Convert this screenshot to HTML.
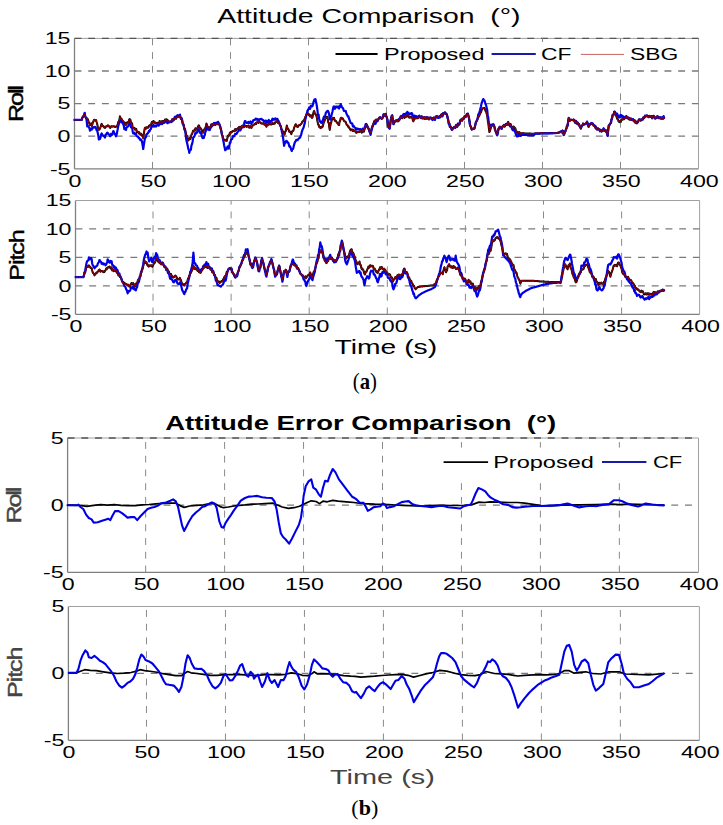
<!DOCTYPE html><html><head><meta charset="utf-8"><style>html,body{margin:0;padding:0;background:#fff;}svg{display:block;}</style></head><body>
<svg width="723" height="825" viewBox="0 0 723 825">
<rect width="723" height="825" fill="#fff"/>
<line x1="74.50" y1="38.40" x2="74.50" y2="168.80" stroke="#808080" stroke-width="1.3"/>
<line x1="74.50" y1="168.80" x2="698.50" y2="168.80" stroke="#808080" stroke-width="1.3"/>
<line x1="698.50" y1="38.40" x2="698.50" y2="168.80" stroke="#a0a0a0" stroke-width="1.0"/>
<line x1="74.50" y1="38.40" x2="698.50" y2="38.40" stroke="#a0a0a0" stroke-width="1.0"/>
<line x1="74.50" y1="136.20" x2="698.50" y2="136.20" stroke="#7a7a7a" stroke-width="1.3" stroke-dasharray="6.9,6.82"/>
<line x1="74.50" y1="103.60" x2="698.50" y2="103.60" stroke="#7a7a7a" stroke-width="1.3" stroke-dasharray="6.9,6.82"/>
<line x1="74.50" y1="71.00" x2="698.50" y2="71.00" stroke="#7a7a7a" stroke-width="1.3" stroke-dasharray="6.9,6.82"/>
<line x1="74.50" y1="38.40" x2="698.50" y2="38.40" stroke="#555555" stroke-width="1.3" stroke-dasharray="6.9,6.82"/>
<line x1="152.50" y1="168.80" x2="152.50" y2="38.40" stroke="#8a8a8a" stroke-width="1.0" stroke-dasharray="6.9,6.82"/>
<line x1="230.50" y1="168.80" x2="230.50" y2="38.40" stroke="#8a8a8a" stroke-width="1.0" stroke-dasharray="6.9,6.82"/>
<line x1="308.50" y1="168.80" x2="308.50" y2="38.40" stroke="#8a8a8a" stroke-width="1.0" stroke-dasharray="6.9,6.82"/>
<line x1="386.50" y1="168.80" x2="386.50" y2="38.40" stroke="#8a8a8a" stroke-width="1.0" stroke-dasharray="6.9,6.82"/>
<line x1="464.50" y1="168.80" x2="464.50" y2="38.40" stroke="#8a8a8a" stroke-width="1.0" stroke-dasharray="6.9,6.82"/>
<line x1="542.50" y1="168.80" x2="542.50" y2="38.40" stroke="#8a8a8a" stroke-width="1.0" stroke-dasharray="6.9,6.82"/>
<line x1="620.50" y1="168.80" x2="620.50" y2="38.40" stroke="#8a8a8a" stroke-width="1.0" stroke-dasharray="6.9,6.82"/>
<polyline points="74.5,119.9 75.0,119.9 75.5,119.9 76.0,119.9 76.6,119.9 77.1,119.9 77.6,119.9 78.1,119.9 78.6,119.9 79.1,119.9 79.6,119.9 80.2,119.9 80.7,119.9 81.2,119.9 81.7,119.9 82.2,117.8 82.7,117.0 83.2,116.3 83.7,116.1 84.2,114.8 84.7,113.4 85.2,116.5 85.7,117.4 86.2,117.9 86.7,118.2 87.2,118.5 87.6,119.1 88.1,120.0 88.6,121.9 89.0,122.5 89.5,124.0 90.0,125.0 90.6,123.8 91.2,123.4 91.7,126.0 92.2,124.9 92.8,122.7 93.4,121.5 93.9,120.0 94.5,119.8 95.0,120.4 95.5,120.4 96.1,120.0 96.6,122.0 97.2,124.0 97.8,126.9 98.3,129.2 98.9,129.8 99.4,129.5 100.0,128.7 100.6,126.9 101.1,124.9 101.7,123.8 102.2,125.0 102.8,125.9 103.3,126.0 103.9,126.9 104.4,127.7 105.0,127.9 105.5,126.5 106.1,126.5 106.7,126.6 107.2,125.8 107.8,125.5 108.3,125.6 108.9,126.3 109.4,126.5 109.9,127.7 110.3,128.0 110.8,126.7 111.3,126.4 111.7,126.3 112.2,126.5 112.7,126.6 113.3,126.4 113.8,126.2 114.4,126.5 114.9,126.8 115.5,127.0 116.0,126.6 116.6,126.3 117.2,126.1 117.7,124.4 118.2,122.3 118.8,121.2 119.4,119.9 119.9,116.3 120.5,117.7 121.0,118.5 121.6,118.8 122.1,120.4 122.7,121.1 123.2,121.5 123.8,122.0 124.3,123.8 124.9,122.7 125.5,124.6 126.0,125.0 126.5,123.0 127.1,122.3 127.6,123.1 128.2,122.3 128.8,121.1 129.3,119.4 129.8,119.1 130.4,119.7 130.9,122.2 131.5,123.5 132.1,123.3 132.6,126.9 133.1,128.1 133.5,128.2 134.0,128.3 134.4,127.9 134.9,129.5 135.4,129.0 135.8,128.7 136.3,129.1 136.8,132.1 137.3,131.5 137.7,131.8 138.2,132.1 138.7,133.3 139.1,132.1 139.6,133.9 140.1,134.3 140.5,134.7 141.0,133.6 141.6,134.4 142.1,135.8 142.6,136.1 143.2,137.8 143.7,134.9 144.3,131.0 144.8,127.9 145.4,127.8 145.9,128.7 146.4,127.3 147.0,127.6 147.5,127.6 147.9,127.8 148.4,127.1 148.9,125.8 149.4,126.4 149.8,125.7 150.3,124.8 150.8,124.8 151.3,123.5 151.8,122.1 152.3,122.9 152.8,122.1 153.3,121.1 153.8,121.2 154.2,122.8 154.7,122.2 155.2,122.6 155.7,122.9 156.1,123.5 156.6,123.3 157.1,122.7 157.6,123.1 158.1,122.7 158.6,123.1 159.1,123.3 159.6,121.1 160.1,122.2 160.6,121.7 161.1,121.6 161.6,121.3 162.1,122.2 162.6,121.0 163.1,121.1 163.6,121.3 164.0,121.6 164.5,121.2 165.0,119.5 165.5,119.8 166.0,119.5 166.5,119.2 167.0,119.7 167.5,120.5 167.9,120.3 168.4,121.1 168.9,121.5 169.4,121.8 169.9,122.1 170.4,121.8 170.9,121.3 171.4,121.6 171.8,120.6 172.3,119.5 172.8,119.8 173.3,120.3 173.8,119.6 174.4,118.8 174.9,117.9 175.4,118.3 176.0,118.9 176.5,117.2 177.0,117.3 177.5,116.3 178.0,116.5 178.5,116.5 179.0,116.7 179.5,116.8 180.0,116.0 180.5,118.0 181.0,119.1 181.5,118.2 182.1,119.9 182.6,123.0 183.1,124.4 183.7,124.5 184.2,128.0 184.6,128.3 185.1,129.3 185.5,131.1 186.0,134.2 186.6,135.6 187.1,136.2 187.6,137.9 188.2,140.6 188.8,139.7 189.3,139.2 189.8,138.1 190.4,138.9 190.9,137.4 191.5,134.6 192.1,134.1 192.6,132.4 193.1,130.8 193.5,130.4 194.0,130.5 194.5,130.8 194.9,129.9 195.4,128.2 195.9,128.6 196.3,129.6 196.8,128.7 197.3,128.8 197.8,127.0 198.2,126.2 198.7,125.4 199.2,125.8 199.8,128.5 200.3,127.9 200.9,128.6 201.4,129.3 202.0,131.4 202.6,132.5 203.1,132.6 203.7,130.1 204.2,129.5 204.8,129.0 205.3,127.8 205.9,126.3 206.4,123.6 206.9,124.5 207.5,126.5 208.1,127.6 208.6,127.3 209.2,127.9 209.7,128.0 210.2,127.2 210.8,125.8 211.3,124.4 211.7,126.3 212.2,124.2 212.7,124.6 213.1,125.3 213.6,124.0 214.1,123.2 214.5,123.7 215.0,125.0 215.5,125.0 215.9,123.7 216.4,123.4 216.9,124.0 217.5,123.8 218.0,123.7 218.6,124.0 219.1,123.6 219.7,125.4 220.2,127.1 220.8,129.6 221.3,131.1 221.8,133.8 222.2,135.5 222.7,136.1 223.1,138.9 223.6,139.7 224.1,140.2 224.7,139.5 225.2,139.8 225.8,140.7 226.3,140.6 226.8,140.8 227.2,138.7 227.7,136.9 228.2,135.4 228.8,135.5 229.3,135.0 229.8,132.7 230.4,133.8 230.9,132.0 231.3,131.7 231.8,132.0 232.3,131.9 232.8,130.9 233.2,131.0 233.7,130.8 234.2,130.7 234.7,131.2 235.2,129.0 235.6,129.8 236.1,130.2 236.6,129.8 237.1,128.7 237.6,128.6 238.0,128.2 238.5,127.5 239.0,127.3 239.5,127.1 239.9,126.8 240.4,128.2 240.9,127.6 241.3,126.5 241.8,126.4 242.3,125.8 242.8,127.0 243.2,127.1 243.7,127.3 244.2,127.0 244.6,125.6 245.1,125.6 245.6,125.8 246.1,126.0 246.5,126.8 247.0,126.1 247.5,126.6 247.9,126.6 248.4,125.5 248.9,127.0 249.3,127.7 249.8,127.2 250.4,126.1 250.9,126.4 251.4,128.0 252.0,126.2 252.5,126.0 252.9,125.4 253.4,124.8 253.9,124.7 254.3,124.3 254.8,124.2 255.3,123.7 255.7,123.0 256.2,124.0 256.7,122.6 257.2,122.2 257.6,122.3 258.1,121.3 258.6,122.9 259.2,121.6 259.7,122.0 260.3,122.5 260.8,122.9 261.3,123.5 261.7,123.6 262.2,123.6 262.7,123.5 263.1,123.1 263.6,123.5 264.1,123.8 264.5,124.8 265.0,123.9 265.5,123.8 266.0,124.7 266.4,126.7 266.9,124.5 267.4,125.3 267.8,125.3 268.3,124.2 268.8,123.0 269.3,124.2 269.7,124.3 270.2,124.5 270.7,124.1 271.2,124.3 271.7,124.4 272.1,123.2 272.6,123.1 273.1,123.9 273.6,123.5 274.1,123.7 274.7,123.6 275.2,122.3 275.8,121.8 276.3,121.3 276.9,121.9 277.4,122.1 278.0,122.9 278.5,122.7 278.9,122.5 279.4,123.7 279.9,125.2 280.3,125.7 280.8,126.2 281.4,129.4 281.9,129.4 282.4,130.5 283.0,131.6 283.5,132.8 284.1,133.7 284.6,134.4 285.2,131.4 285.7,131.4 286.2,128.7 286.8,125.6 287.3,127.3 287.7,128.8 288.2,129.0 288.6,129.6 289.1,131.5 289.7,132.0 290.2,131.6 290.8,132.6 291.3,134.1 291.9,132.4 292.4,131.1 292.9,131.1 293.5,130.3 294.1,127.9 294.6,126.6 295.1,125.4 295.7,124.2 296.2,125.3 296.8,126.3 297.3,126.8 297.9,127.0 298.4,125.7 299.0,125.2 299.6,125.0 300.1,125.2 300.6,124.3 301.1,124.0 301.5,123.6 302.0,122.4 302.6,121.3 303.1,121.0 303.6,120.6 304.2,120.1 304.7,118.7 305.1,117.6 305.6,116.5 306.1,116.0 306.5,114.3 307.0,114.1 307.5,113.4 308.1,114.2 308.6,114.7 309.2,114.6 309.7,116.0 310.2,116.5 310.6,115.4 311.1,115.2 311.5,116.6 312.0,117.9 312.6,116.8 313.1,114.1 313.6,112.0 314.2,110.9 314.8,113.4 315.3,114.0 315.8,114.6 316.4,115.7 316.9,117.9 317.5,121.6 318.1,124.3 318.6,124.6 319.2,126.9 319.7,126.8 320.2,127.8 320.8,128.1 321.4,126.7 321.9,127.1 322.4,127.2 323.0,125.5 323.6,123.0 324.1,121.6 324.6,120.6 325.2,119.0 325.8,118.0 326.3,116.8 326.8,117.3 327.4,116.9 327.9,119.6 328.3,122.7 328.8,122.7 329.2,126.6 329.7,129.7 330.2,126.9 330.8,123.4 331.3,122.1 331.9,119.0 332.4,119.4 333.0,117.9 333.6,118.2 334.1,117.9 334.7,120.5 335.2,120.7 335.8,120.8 336.3,121.4 336.9,122.5 337.4,123.3 337.9,123.5 338.5,124.7 339.1,125.0 339.6,121.3 340.1,121.0 340.7,118.2 341.2,117.9 341.6,118.4 342.1,118.7 342.6,118.4 343.0,118.8 343.5,119.9 344.1,121.2 344.6,121.3 345.1,121.4 345.7,122.0 346.2,123.3 346.6,124.8 347.1,124.7 347.6,125.5 348.0,126.7 348.5,126.2 349.0,127.8 349.6,128.1 350.1,129.2 350.7,130.2 351.2,129.6 351.7,129.5 352.1,129.4 352.6,131.0 353.1,130.7 353.6,129.8 354.0,131.2 354.5,131.1 355.0,131.3 355.5,131.4 356.0,132.5 356.4,132.7 356.9,131.5 357.4,132.3 357.9,131.9 358.4,131.5 358.9,131.9 359.3,132.0 359.8,131.5 360.3,130.9 360.8,130.9 361.2,131.4 361.7,132.7 362.3,131.7 362.8,131.0 363.4,131.1 363.9,131.8 364.3,130.0 364.8,128.5 365.3,126.4 365.7,126.1 366.2,124.6 366.8,125.3 367.3,127.2 367.8,127.3 368.4,128.2 368.9,129.6 369.5,131.2 370.1,133.0 370.6,133.3 371.2,130.7 371.7,128.1 372.2,126.5 372.8,125.1 373.3,123.7 373.7,122.9 374.2,121.3 374.7,120.5 375.1,121.0 375.6,122.0 376.1,119.6 376.7,119.8 377.2,120.0 377.8,120.3 378.3,119.3 378.8,118.6 379.2,118.3 379.7,118.1 380.2,117.4 380.7,117.7 381.1,117.9 381.6,118.9 382.1,118.5 382.5,118.1 383.0,116.9 383.5,114.5 384.1,114.2 384.6,115.7 385.2,115.3 385.7,113.7 386.2,115.9 386.8,117.1 387.4,120.1 387.9,124.2 388.5,127.2 389.1,127.3 389.6,128.3 390.1,125.4 390.7,120.4 391.2,118.3 391.7,116.1 392.2,115.4 392.6,118.4 393.1,121.2 393.5,124.1 394.0,122.4 394.6,121.9 395.1,121.2 395.6,121.3 396.0,120.5 396.5,120.9 396.9,120.4 397.4,120.8 397.9,121.4 398.5,119.5 399.1,120.2 399.6,119.4 400.2,117.6 400.7,117.3 401.2,116.6 401.8,117.7 402.3,118.2 402.9,116.9 403.4,116.3 404.0,116.7 404.5,117.9 405.0,117.2 405.4,117.1 405.9,116.2 406.4,115.8 406.8,116.7 407.3,114.8 407.8,115.4 408.2,115.4 408.7,116.6 409.2,117.7 409.6,117.3 410.1,116.9 410.7,117.4 411.2,116.6 411.8,116.6 412.3,117.9 412.9,120.4 413.4,121.2 413.9,119.8 414.5,118.0 415.1,118.6 415.6,118.4 416.1,118.3 416.5,117.2 417.0,116.8 417.5,118.2 418.0,118.3 418.4,117.7 418.9,116.3 419.4,116.0 419.8,116.6 420.3,117.5 420.8,117.7 421.3,118.1 421.7,116.5 422.2,117.6 422.7,118.3 423.2,118.2 423.7,117.9 424.1,117.2 424.6,118.9 425.1,118.6 425.6,117.8 426.1,118.4 426.5,117.5 427.0,117.6 427.5,118.4 428.0,118.4 428.4,117.7 428.9,119.3 429.4,118.5 429.8,117.8 430.3,117.7 430.8,117.8 431.3,118.0 431.7,118.4 432.2,119.7 432.7,119.3 433.1,118.0 433.6,117.7 434.1,117.9 434.6,117.9 435.0,119.2 435.5,117.5 436.0,116.8 436.4,116.2 436.9,116.5 437.4,116.5 437.8,117.5 438.3,117.3 438.8,117.5 439.2,116.5 439.7,117.5 440.2,116.9 440.6,116.1 441.1,114.9 441.7,114.1 442.2,115.9 442.8,115.1 443.3,113.0 443.8,113.7 444.4,113.3 444.9,112.6 445.5,113.4 446.0,114.1 446.6,113.9 447.1,115.4 447.7,118.2 448.2,120.0 448.8,123.5 449.3,123.4 449.9,126.8 450.5,126.5 451.0,127.0 451.6,128.7 452.2,129.4 452.7,128.4 453.2,127.8 453.8,127.5 454.4,127.0 454.9,127.3 455.4,127.2 456.0,125.1 456.4,125.5 456.9,126.2 457.3,126.7 457.8,124.2 458.2,123.7 458.7,124.6 459.2,124.6 459.7,123.2 460.1,120.8 460.6,119.8 461.1,119.7 461.6,119.9 462.1,120.6 462.5,118.9 463.0,119.4 463.5,119.2 464.0,117.9 464.5,117.0 464.9,116.4 465.4,117.2 465.9,116.7 466.4,115.6 466.9,114.4 467.3,114.7 467.8,113.9 468.4,115.6 468.9,117.5 469.4,120.4 470.0,125.0 470.5,126.0 470.9,127.3 471.4,128.4 471.8,129.6 472.3,129.1 472.8,128.6 473.4,128.4 473.9,128.8 474.5,128.5 475.0,126.1 475.5,124.2 475.9,122.3 476.4,121.7 476.9,120.7 477.3,119.7 477.8,118.5 478.3,115.9 478.9,116.6 479.4,115.4 480.0,113.8 480.5,112.7 481.0,112.2 481.4,110.9 481.9,109.5 482.4,108.7 482.8,108.3 483.3,108.2 483.9,108.4 484.4,107.9 484.9,109.0 485.5,110.9 486.1,111.6 486.6,113.4 487.2,115.5 487.8,120.7 488.3,123.3 488.8,127.9 489.4,132.0 490.0,130.8 490.5,129.3 491.1,127.1 491.7,125.5 492.2,125.5 492.8,125.4 493.3,124.7 493.8,125.4 494.4,126.9 494.9,129.2 495.4,130.4 496.0,131.6 496.6,133.0 497.1,133.9 497.6,132.4 498.0,131.2 498.5,128.4 498.9,128.5 499.4,127.1 499.9,126.9 500.5,127.9 501.1,127.2 501.6,129.0 502.1,127.5 502.5,126.5 503.0,126.3 503.5,125.6 504.0,124.8 504.4,126.2 504.9,126.3 505.4,125.0 505.8,124.2 506.3,123.8 506.8,124.8 507.3,124.3 507.7,123.3 508.2,122.4 508.7,124.3 509.1,124.4 509.6,125.3 510.1,126.3 510.6,123.9 511.0,125.4 511.5,126.4 512.0,127.0 512.5,128.0 513.0,128.4 513.5,126.5 513.9,126.8 514.4,127.5 514.9,128.1 515.4,128.4 516.0,131.6 516.5,131.5 517.1,132.7 517.6,131.9 518.0,132.3 518.5,133.4 519.0,132.4 519.5,132.2 519.9,133.0 520.4,134.2 520.9,134.0 521.4,133.2 521.9,133.2 522.4,133.2 522.8,133.3 523.3,133.3 523.8,133.3 524.3,133.4 524.8,133.4 525.3,133.4 525.8,133.4 526.3,133.5 526.8,133.5 527.2,133.5 527.7,133.5 528.2,133.6 528.7,133.6 529.2,133.6 529.7,133.6 530.2,133.6 530.7,133.6 531.2,133.6 531.6,133.7 532.1,133.7 532.6,133.7 533.1,133.7 533.6,133.7 534.1,133.7 534.6,133.6 535.1,133.6 535.6,133.6 536.1,133.6 536.6,133.5 537.1,133.5 537.6,133.5 538.1,133.5 538.6,133.4 539.1,133.4 539.6,133.4 540.1,133.4 540.6,133.3 541.1,133.3 541.6,133.3 542.1,133.3 542.6,133.3 543.1,133.3 543.6,133.3 544.1,133.2 544.6,133.2 545.1,133.2 545.6,133.2 546.1,133.2 546.6,133.2 547.1,133.2 547.6,133.2 548.1,133.2 548.6,133.2 549.1,133.2 549.6,133.1 550.1,133.1 550.6,133.1 551.1,133.1 551.6,133.1 552.1,133.1 552.6,133.1 553.1,133.1 553.6,133.0 554.1,133.0 554.6,133.0 555.2,132.9 555.7,132.9 556.2,132.9 556.7,132.9 557.2,132.9 557.7,132.8 558.2,132.8 558.7,132.6 559.1,132.4 559.6,132.2 560.1,131.9 560.5,131.7 561.0,131.5 561.5,132.0 562.1,132.0 562.6,130.6 563.2,131.6 563.7,134.8 564.3,134.1 564.8,132.2 565.4,131.5 566.0,129.3 566.5,128.5 567.0,125.7 567.6,125.4 568.2,120.9 568.7,118.1 569.3,119.5 569.8,120.9 570.4,120.3 570.9,119.5 571.5,120.0 572.0,119.9 572.6,120.0 573.1,120.1 573.6,119.8 574.0,119.7 574.5,121.2 574.9,122.1 575.4,122.7 575.9,121.0 576.5,122.2 577.0,123.6 577.6,122.6 578.1,123.3 578.6,124.6 579.0,124.1 579.5,126.0 580.0,126.8 580.4,127.6 580.9,128.5 581.5,126.5 582.0,125.7 582.5,125.1 583.1,123.4 583.6,124.1 584.2,123.9 584.8,124.4 585.3,124.3 585.9,123.4 586.4,123.0 587.0,122.1 587.5,123.0 588.1,125.7 588.6,126.8 589.1,125.1 589.7,124.3 590.2,124.8 590.8,123.7 591.3,123.4 591.7,123.3 592.2,124.2 592.6,123.5 593.1,124.4 593.6,125.7 594.2,125.5 594.8,125.7 595.3,127.5 595.8,126.5 596.4,128.7 596.9,129.0 597.5,129.4 598.0,128.3 598.5,129.0 598.9,129.5 599.4,129.4 599.9,130.7 600.3,130.3 600.8,130.4 601.3,131.1 601.7,131.3 602.2,130.8 602.7,130.6 603.1,130.1 603.6,128.6 604.1,130.6 604.7,129.9 605.2,130.6 605.8,131.7 606.3,130.7 606.8,131.2 607.2,134.4 607.7,136.0 608.2,129.9 608.8,125.5 609.3,125.3 609.9,124.3 610.4,123.3 611.0,122.9 611.5,119.4 612.0,118.6 612.6,115.1 613.2,114.8 613.7,114.6 614.3,111.7 614.9,113.3 615.4,114.4 616.0,115.6 616.5,116.6 617.1,118.7 617.6,119.1 618.0,119.2 618.5,121.3 619.0,121.8 619.5,122.2 619.9,121.7 620.4,120.8 620.9,121.8 621.5,119.2 622.0,119.8 622.6,119.7 623.1,118.6 623.6,118.2 624.0,119.3 624.5,118.3 625.0,117.6 625.4,117.8 625.9,117.6 626.4,116.4 626.8,117.9 627.3,118.2 627.8,117.9 628.3,117.9 628.7,119.2 629.2,118.0 629.7,118.5 630.1,119.6 630.6,118.8 631.1,118.7 631.6,119.4 632.0,120.0 632.5,119.9 633.0,119.2 633.4,120.7 633.9,120.5 634.4,120.5 634.8,121.9 635.3,120.7 635.8,122.0 636.4,123.3 637.0,122.8 637.5,122.2 638.0,122.3 638.4,120.7 638.9,119.7 639.4,119.3 639.8,119.8 640.3,119.8 640.8,120.6 641.2,120.0 641.7,119.3 642.2,119.2 642.7,119.5 643.1,117.4 643.6,117.4 644.1,118.1 644.5,117.5 645.0,116.1 645.5,115.8 646.0,116.4 646.4,116.1 646.9,115.5 647.4,116.4 647.8,115.8 648.3,116.8 648.8,117.0 649.3,117.1 649.7,116.1 650.2,116.5 650.7,117.1 651.2,116.9 651.7,116.0 652.2,118.2 652.7,117.0 653.2,115.9 653.7,116.4 654.2,117.0 654.7,118.0 655.2,118.0 655.7,118.0 656.2,117.4 656.7,117.2 657.1,117.0 657.6,116.5 658.1,117.9 658.6,117.6 659.1,117.8 659.6,117.3 660.1,118.2 660.6,117.6 661.1,118.7 661.6,118.7 662.1,117.8 662.6,118.0 663.1,118.3 663.6,116.8 664.1,117.9" fill="none" stroke="#000000" stroke-width="2.0" stroke-linejoin="round" stroke-linecap="round"/>
<polyline points="74.5,119.9 75.0,119.9 75.5,119.9 76.0,119.9 76.6,119.9 77.1,119.9 77.6,119.9 78.1,119.9 78.6,119.9 79.1,119.9 79.6,119.9 80.2,119.9 80.7,119.9 81.2,119.9 81.7,119.9 82.2,118.2 82.7,117.1 83.2,116.7 83.7,115.6 84.2,114.6 84.7,112.9 85.2,116.0 85.7,117.5 86.2,117.7 86.8,122.2 87.3,126.5 87.8,126.0 88.4,126.4 88.9,127.3 89.5,128.4 90.0,130.7 90.6,129.2 91.2,128.3 91.7,129.7 92.3,128.8 92.8,127.3 93.4,127.7 93.9,127.4 94.5,126.8 95.0,127.5 95.6,127.2 96.1,128.6 96.7,130.3 97.2,130.7 97.8,133.1 98.3,135.4 98.9,139.5 99.5,138.3 100.0,138.9 100.6,137.4 101.2,134.3 101.7,133.4 102.2,134.9 102.8,135.2 103.3,135.6 103.9,136.4 104.4,136.4 105.0,137.6 105.5,134.6 106.1,134.7 106.6,133.5 107.2,132.6 107.7,132.9 108.3,133.9 108.9,134.4 109.4,134.9 110.0,136.2 110.5,136.1 111.1,133.9 111.6,135.1 112.2,134.8 112.7,133.4 113.3,131.1 113.8,131.6 114.4,133.1 114.9,134.2 115.5,135.1 116.0,136.3 116.6,134.8 117.1,132.1 117.7,129.2 118.3,125.9 118.8,124.2 119.4,122.6 119.9,120.0 120.5,121.2 121.0,121.5 121.6,122.1 122.1,122.4 122.7,123.4 123.2,124.0 123.8,125.5 124.3,129.2 124.9,127.8 125.4,129.5 126.0,130.0 126.5,127.6 127.1,126.9 127.6,126.9 128.2,126.1 128.8,124.4 129.3,123.5 129.9,122.8 130.4,124.9 131.0,127.2 131.5,127.5 132.1,127.3 132.6,131.2 133.2,133.4 133.8,132.5 134.3,132.7 134.8,134.1 135.4,133.7 135.9,133.6 136.5,135.7 137.1,136.4 137.6,136.5 138.1,136.8 138.5,138.0 139.0,137.6 139.5,138.5 139.9,139.3 140.4,140.0 140.9,139.5 141.5,140.2 142.0,141.6 142.6,145.0 143.2,149.0 143.7,145.8 144.3,142.0 144.8,139.1 145.4,137.3 145.9,137.2 146.4,134.4 147.0,134.0 147.5,133.3 147.9,133.4 148.4,132.2 148.9,131.0 149.4,131.7 149.8,130.6 150.3,129.4 150.8,129.2 151.2,127.8 151.7,126.1 152.2,126.5 152.7,126.5 153.1,125.3 153.6,125.1 154.1,126.6 154.6,126.4 155.0,125.6 155.5,126.0 156.0,126.5 156.4,125.6 156.9,125.5 157.4,125.0 157.9,125.4 158.3,125.6 158.8,125.6 159.3,124.4 159.8,123.4 160.3,124.1 160.7,123.4 161.2,122.9 161.7,123.2 162.2,124.1 162.7,123.0 163.1,122.6 163.6,122.6 164.1,122.9 164.6,122.6 165.0,121.2 165.5,121.0 166.1,121.6 166.6,121.7 167.1,122.9 167.7,123.2 168.2,122.3 168.6,121.9 169.1,121.7 169.6,122.3 170.0,122.0 170.5,121.8 171.0,121.7 171.6,122.0 172.1,119.6 172.7,119.3 173.2,120.7 173.7,119.9 174.1,119.1 174.6,117.3 175.1,116.7 175.5,117.0 176.0,117.3 176.5,116.3 177.0,115.7 177.5,115.1 178.0,115.5 178.5,116.3 179.0,115.5 179.5,116.1 180.0,114.6 180.5,117.0 181.0,118.2 181.5,118.1 182.1,119.9 182.6,123.1 183.1,124.8 183.7,125.6 184.3,129.3 184.8,130.1 185.4,132.2 186.0,137.9 186.5,140.9 187.1,142.9 187.7,145.7 188.2,148.4 188.8,150.1 189.3,152.8 189.8,150.8 190.4,150.2 190.9,149.6 191.4,145.7 192.0,144.2 192.6,141.7 193.1,137.9 193.6,137.1 194.0,136.9 194.5,135.9 194.9,135.0 195.4,132.6 195.9,133.6 196.5,133.3 197.1,132.2 197.6,130.9 198.2,129.3 198.7,129.9 199.2,130.3 199.8,132.7 200.4,132.1 200.9,132.6 201.4,134.7 202.0,136.6 202.6,138.0 203.1,137.8 203.7,138.1 204.2,136.3 204.8,135.1 205.3,131.9 205.9,130.9 206.4,128.2 207.0,127.2 207.5,129.3 208.1,129.3 208.6,129.7 209.2,130.1 209.7,130.0 210.2,128.8 210.8,127.5 211.3,125.2 211.7,126.6 212.2,124.5 212.6,124.4 213.1,125.0 213.7,123.3 214.2,122.8 214.8,123.6 215.3,124.4 215.8,123.0 216.4,122.5 216.9,122.6 217.5,122.9 218.0,121.8 218.6,123.1 219.1,123.8 219.6,124.9 220.2,126.5 220.8,128.4 221.3,130.9 221.9,134.3 222.5,136.0 223.0,139.4 223.6,141.8 224.1,145.2 224.7,147.8 225.2,150.2 225.8,149.6 226.3,148.3 226.8,149.0 227.4,146.9 227.9,146.4 228.3,147.4 228.8,148.7 229.3,146.7 229.9,142.5 230.4,142.9 230.9,140.1 231.5,139.2 232.1,139.2 232.6,137.2 233.1,136.0 233.6,136.3 234.1,136.2 234.5,136.2 235.0,134.1 235.5,134.0 236.0,133.7 236.5,134.0 236.9,133.1 237.4,132.3 237.9,131.8 238.4,131.3 238.8,129.9 239.3,130.1 239.8,129.3 240.4,130.3 240.9,129.1 241.5,128.3 242.0,127.0 242.5,125.7 242.9,127.2 243.4,126.3 243.9,124.5 244.3,122.9 244.8,121.2 245.4,121.1 245.9,122.1 246.4,122.8 247.0,122.8 247.5,122.9 247.9,122.3 248.4,122.0 248.9,123.2 249.3,123.0 249.8,122.6 250.4,121.5 250.9,121.9 251.4,123.9 252.0,122.5 252.6,122.2 253.1,120.3 253.6,120.2 254.2,119.9 254.7,119.9 255.1,119.8 255.6,118.7 256.1,119.7 256.5,118.8 257.0,118.9 257.6,119.4 258.1,119.3 258.6,120.9 259.2,119.7 259.8,119.2 260.3,119.2 260.8,119.1 261.4,118.9 261.9,119.2 262.3,119.8 262.8,120.2 263.3,120.1 263.7,121.1 264.2,121.6 264.7,121.8 265.3,120.8 265.8,120.6 266.4,122.7 266.9,121.0 267.4,121.6 267.8,122.0 268.3,121.0 268.8,120.0 269.2,121.7 269.7,122.3 270.2,122.0 270.6,121.1 271.1,120.9 271.6,121.4 272.0,119.9 272.5,118.7 273.0,119.9 273.6,119.0 274.1,119.7 274.7,119.5 275.2,118.3 275.8,118.8 276.3,118.9 276.8,119.4 277.4,118.8 278.0,120.6 278.5,120.8 279.1,122.5 279.7,123.7 280.2,125.5 280.8,126.3 281.3,128.9 281.9,131.7 282.4,134.1 283.0,137.2 283.6,141.8 284.1,145.8 284.7,143.4 285.2,141.8 285.8,142.5 286.3,140.8 286.9,141.2 287.4,141.8 288.0,142.9 288.5,143.1 289.1,145.8 289.6,146.9 290.2,146.5 290.7,148.0 291.2,149.7 291.8,151.0 292.4,149.0 292.9,149.1 293.4,147.8 294.0,145.1 294.6,143.1 295.1,141.8 295.6,141.4 296.2,139.8 296.7,139.8 297.1,140.0 297.6,140.2 298.0,139.3 298.5,138.9 299.0,138.2 299.6,137.9 300.1,137.6 300.7,135.7 301.2,134.7 301.6,132.8 302.0,131.3 302.6,129.4 303.1,128.4 303.6,127.4 304.2,125.0 304.8,122.9 305.3,119.8 305.8,117.6 306.4,114.9 306.9,113.4 307.5,110.6 308.1,109.7 308.6,109.1 309.2,107.5 309.7,108.9 310.2,108.8 310.8,105.8 311.3,105.9 311.7,105.9 312.2,106.3 312.6,105.8 313.1,103.6 313.6,101.9 314.1,100.3 314.6,99.3 315.1,99.4 315.5,99.2 316.0,102.1 316.4,103.3 316.9,106.5 317.5,110.6 318.0,115.5 318.6,114.6 319.1,118.6 319.7,120.8 320.2,121.6 320.8,122.5 321.3,121.7 321.9,123.0 322.4,122.0 323.0,119.7 323.6,117.6 324.1,116.5 324.7,116.9 325.2,115.5 325.8,113.0 326.4,111.9 326.9,111.7 327.4,110.9 328.0,110.9 328.6,112.3 329.1,114.6 329.6,117.6 330.2,119.6 330.8,116.6 331.3,116.4 331.9,113.4 332.4,112.0 333.0,108.6 333.5,106.8 334.0,106.3 334.4,107.4 334.9,108.8 335.4,107.4 335.8,106.5 336.3,106.6 336.9,107.3 337.4,106.6 337.9,106.6 338.5,108.2 339.1,108.5 339.6,105.9 340.1,107.0 340.7,104.1 341.2,105.5 341.8,106.8 342.3,107.5 342.9,108.1 343.4,109.2 343.8,110.8 344.3,110.9 344.8,111.1 345.2,111.1 345.7,110.9 346.2,113.0 346.8,114.3 347.3,115.2 347.9,116.5 348.4,116.4 349.0,118.5 349.6,120.0 350.1,121.4 350.7,123.1 351.2,123.3 351.8,123.3 352.3,123.6 352.8,126.4 353.2,125.8 353.7,125.8 354.2,127.0 354.6,127.4 355.1,127.7 355.6,128.5 356.0,129.7 356.5,129.3 357.0,128.4 357.5,128.9 357.9,128.8 358.4,128.8 358.9,129.3 359.3,129.5 359.8,129.1 360.3,129.3 360.7,129.5 361.2,129.4 361.8,131.1 362.3,130.0 362.8,128.6 363.4,129.9 363.9,129.6 364.3,129.0 364.8,126.9 365.3,125.5 365.7,124.1 366.2,123.9 366.8,124.6 367.3,126.0 367.8,127.0 368.4,128.6 368.9,129.6 369.5,131.7 370.1,133.2 370.6,134.9 371.2,131.6 371.7,129.4 372.2,127.8 372.8,126.2 373.3,124.8 373.7,124.6 374.2,123.5 374.7,122.4 375.1,122.7 375.6,123.8 376.1,120.8 376.7,121.2 377.2,121.3 377.8,120.9 378.3,119.5 378.8,118.4 379.2,117.7 379.7,117.3 380.2,117.5 380.7,117.6 381.1,117.6 381.6,118.8 382.1,117.9 382.5,118.2 383.0,116.8 383.5,114.7 384.1,114.6 384.6,115.7 385.2,115.4 385.7,114.2 386.2,116.3 386.8,117.4 387.4,119.7 387.9,124.2 388.5,127.4 389.1,127.9 389.6,128.7 390.1,125.5 390.7,120.2 391.2,118.0 391.7,116.0 392.2,115.4 392.6,118.1 393.1,120.8 393.5,124.1 394.0,123.2 394.6,121.8 395.1,121.1 395.6,121.3 396.0,120.4 396.5,121.0 396.9,120.5 397.4,121.0 397.9,120.9 398.5,119.4 399.1,120.5 399.6,118.9 400.2,117.5 400.7,116.3 401.2,115.9 401.8,116.3 402.3,117.1 402.9,115.6 403.4,114.2 404.0,113.9 404.5,114.9 405.0,114.9 405.4,113.9 405.9,113.5 406.4,112.9 406.8,113.5 407.3,111.9 407.8,112.6 408.2,112.5 408.7,113.2 409.2,114.3 409.6,113.6 410.1,113.9 410.7,113.9 411.2,113.0 411.8,113.0 412.3,113.8 412.9,117.1 413.4,117.8 413.9,116.2 414.5,115.6 415.1,115.9 415.6,116.9 416.1,116.8 416.5,116.2 417.0,116.4 417.5,116.7 418.0,117.9 418.4,117.7 418.9,116.0 419.4,115.7 419.8,116.6 420.3,116.6 420.8,117.4 421.3,118.0 421.7,116.4 422.2,117.9 422.7,118.4 423.2,118.1 423.7,117.8 424.1,117.3 424.6,118.5 425.1,117.9 425.6,117.5 426.1,118.7 426.5,117.1 427.0,117.2 427.5,118.3 428.0,118.8 428.4,117.7 428.9,119.1 429.4,119.1 429.8,117.6 430.3,117.6 430.8,117.5 431.3,118.4 431.7,118.9 432.2,119.1 432.7,120.1 433.1,117.9 433.6,117.7 434.1,117.4 434.6,118.2 435.0,120.0 435.5,117.8 436.0,116.9 436.4,116.1 436.9,116.2 437.4,116.9 437.8,117.8 438.3,118.0 438.8,117.5 439.2,116.5 439.7,117.1 440.2,117.2 440.6,116.0 441.1,115.1 441.7,114.3 442.2,116.5 442.8,115.7 443.3,113.1 443.8,113.4 444.4,113.4 444.9,112.3 445.5,112.9 446.0,113.6 446.6,114.4 447.1,115.6 447.7,117.9 448.2,120.2 448.8,124.0 449.3,123.3 449.9,127.0 450.5,126.4 451.0,127.6 451.6,129.8 452.2,129.7 452.7,129.2 453.2,128.0 453.8,127.4 454.4,127.7 454.9,127.2 455.4,127.8 456.0,125.3 456.4,125.5 456.9,125.9 457.3,126.5 457.8,123.6 458.2,124.4 458.7,124.5 459.2,124.5 459.7,123.2 460.1,121.1 460.6,120.2 461.1,119.7 461.6,119.6 462.1,120.6 462.5,118.4 463.0,119.0 463.5,119.0 464.0,118.6 464.5,116.2 464.9,116.0 465.4,116.6 465.9,116.4 466.4,115.3 466.9,113.9 467.3,114.7 467.8,113.6 468.4,115.9 468.9,117.6 469.4,121.0 470.0,124.8 470.5,126.4 470.9,126.7 471.4,128.6 471.8,129.4 472.3,129.1 472.8,129.0 473.4,128.9 473.9,128.6 474.5,128.0 475.0,126.3 475.5,123.9 475.9,122.2 476.4,121.2 476.9,120.3 477.3,119.6 477.8,117.6 478.3,114.3 478.9,114.0 479.4,112.0 480.0,110.3 480.5,108.4 481.0,106.2 481.4,104.1 481.9,102.4 482.4,101.0 482.8,100.1 483.3,99.1 483.9,100.2 484.4,100.3 484.9,102.2 485.5,104.0 486.1,105.2 486.6,107.4 487.2,109.9 487.7,115.2 488.3,117.8 488.8,122.7 489.3,124.2 489.7,124.6 490.2,126.5 490.6,125.9 491.1,126.2 491.7,124.7 492.2,124.4 492.8,124.4 493.3,124.1 493.8,125.1 494.4,126.4 494.9,129.2 495.4,130.9 496.0,132.3 496.6,134.3 497.1,135.4 497.6,134.5 498.0,132.0 498.5,129.1 498.9,128.9 499.4,127.3 499.9,126.6 500.5,127.4 501.1,127.6 501.6,128.8 502.1,127.1 502.5,126.6 503.0,126.3 503.5,125.8 504.0,125.3 504.4,126.7 504.9,125.8 505.4,125.3 505.8,124.2 506.3,124.1 506.8,124.7 507.3,124.5 507.7,123.2 508.2,122.0 508.7,124.2 509.1,124.8 509.6,125.4 510.1,126.2 510.6,124.7 511.0,126.2 511.5,127.4 512.0,128.7 512.4,129.6 512.9,130.2 513.4,129.5 513.8,129.3 514.3,130.9 514.8,130.6 515.2,132.1 515.7,133.7 516.2,135.2 516.6,135.2 517.1,136.5 517.6,135.1 518.0,135.1 518.5,136.0 519.0,135.1 519.5,134.4 519.9,135.0 520.4,135.9 520.9,135.8 521.4,134.8 521.9,134.8 522.4,134.8 522.8,134.8 523.3,134.8 523.8,134.8 524.3,134.8 524.8,134.8 525.3,134.9 525.8,134.9 526.3,135.0 526.8,135.0 527.2,135.1 527.7,135.1 528.2,135.2 528.7,135.2 529.2,135.3 529.7,135.3 530.2,135.3 530.7,135.3 531.2,135.3 531.6,135.3 532.1,135.3 532.6,135.3 533.1,135.3 533.6,135.3 534.1,134.9 534.5,134.5 535.0,134.1 535.5,133.7 536.0,133.7 536.5,133.7 537.0,133.6 537.5,133.6 538.0,133.6 538.6,133.6 539.1,133.6 539.6,133.6 540.1,133.5 540.6,133.5 541.1,133.5 541.6,133.5 542.1,133.5 542.6,133.5 543.1,133.5 543.6,133.5 544.1,133.4 544.6,133.4 545.1,133.4 545.6,133.4 546.1,133.4 546.6,133.4 547.1,133.4 547.6,133.4 548.1,133.4 548.6,133.4 549.1,133.4 549.6,133.3 550.1,133.3 550.6,133.3 551.1,133.3 551.6,133.3 552.1,133.3 552.6,133.3 553.1,133.2 553.6,133.2 554.1,133.2 554.6,133.1 555.2,133.1 555.7,133.1 556.2,133.0 556.7,133.0 557.2,133.0 557.7,132.9 558.2,132.9 558.7,132.7 559.1,132.4 559.6,132.2 560.1,132.0 560.5,131.7 561.0,131.5 561.5,132.4 562.1,132.3 562.6,130.5 563.2,131.4 563.7,135.1 564.3,133.7 564.8,131.9 565.4,131.1 566.0,129.4 566.5,128.1 567.0,125.7 567.6,126.0 568.2,121.2 568.7,117.9 569.3,119.4 569.8,120.3 570.4,120.4 570.9,119.8 571.5,119.8 572.0,120.1 572.6,120.0 573.1,120.1 573.6,119.5 574.0,120.2 574.5,121.2 574.9,122.4 575.4,123.0 575.9,120.7 576.5,122.3 577.0,123.5 577.6,122.6 578.1,123.3 578.6,124.9 579.0,124.1 579.5,125.8 580.0,127.1 580.4,127.7 580.9,128.5 581.5,126.5 582.0,125.5 582.5,125.4 583.1,123.9 583.6,124.5 584.2,124.1 584.8,124.1 585.3,123.9 585.9,123.5 586.4,123.6 587.0,121.6 587.5,122.5 588.1,125.5 588.6,126.7 589.1,125.2 589.7,124.0 590.2,124.0 590.8,123.6 591.3,123.0 591.7,123.5 592.2,124.1 592.6,123.5 593.1,124.2 593.6,125.2 594.2,125.3 594.8,126.0 595.3,127.8 595.8,127.0 596.4,128.8 596.9,129.5 597.5,129.5 598.0,128.5 598.5,128.9 598.9,129.2 599.4,129.3 599.9,131.3 600.3,129.9 600.8,129.8 601.3,131.4 601.7,131.3 602.2,130.8 602.7,130.3 603.1,130.2 603.6,128.3 604.1,130.5 604.7,129.7 605.2,130.8 605.8,131.5 606.3,130.5 606.8,131.5 607.2,134.6 607.7,135.8 608.2,130.0 608.8,125.4 609.3,125.1 609.9,124.2 610.4,123.3 611.0,122.3 611.5,119.2 612.0,118.7 612.6,115.2 613.2,114.3 613.7,114.5 614.3,111.5 614.9,111.8 615.4,113.4 616.0,113.5 616.5,113.8 617.1,113.6 617.7,114.9 618.2,116.3 618.8,117.4 619.3,117.3 619.9,117.3 620.4,114.9 621.0,116.8 621.5,115.2 622.0,115.8 622.6,116.8 623.1,116.5 623.5,116.4 624.0,117.8 624.5,117.1 625.0,117.1 625.4,118.0 625.9,117.7 626.4,116.0 626.8,118.0 627.3,118.2 627.8,117.7 628.3,117.5 628.7,118.5 629.2,118.0 629.7,118.4 630.1,119.6 630.6,118.7 631.1,118.6 631.6,120.0 632.0,119.9 632.5,119.3 633.0,119.2 633.4,120.3 633.9,120.5 634.4,120.2 634.8,122.3 635.3,121.1 635.8,121.8 636.4,122.9 637.0,123.1 637.5,122.3 638.0,122.2 638.4,121.1 638.9,119.5 639.4,119.4 639.8,119.3 640.3,119.6 640.8,120.1 641.2,119.7 641.7,119.7 642.2,119.3 642.7,119.5 643.1,118.0 643.6,117.4 644.1,117.5 644.5,117.5 645.0,115.7 645.5,115.9 646.0,115.9 646.4,115.7 646.9,115.5 647.4,115.8 647.8,116.2 648.3,116.1 648.8,117.2 649.3,116.6 649.7,115.9 650.2,116.9 650.7,116.9 651.2,116.9 651.7,116.2 652.2,118.2 652.7,116.5 653.2,116.0 653.7,115.8 654.2,116.3 654.7,117.6 655.2,118.7 655.7,118.4 656.2,117.6 656.7,116.9 657.1,116.3 657.6,116.2 658.1,117.7 658.6,118.2 659.1,117.6 659.6,117.4 660.1,118.1 660.6,117.3 661.1,118.5 661.6,118.6 662.1,117.4 662.6,117.9 663.1,118.7 663.6,116.2 664.1,117.9" fill="none" stroke="#0000e6" stroke-width="2.2" stroke-linejoin="round" stroke-linecap="round"/>
<polyline points="74.5,119.7 75.0,119.8 75.5,119.8 76.0,119.8 76.6,119.8 77.1,119.8 77.6,119.8 78.1,119.8 78.6,119.8 79.1,119.9 79.6,119.9 80.2,119.9 80.7,119.9 81.2,119.9 81.7,119.9 82.2,118.1 82.7,117.2 83.2,116.4 83.7,115.9 84.2,114.4 84.7,113.8 85.2,116.7 85.7,117.5 86.2,117.6 86.7,118.0 87.2,119.0 87.6,118.7 88.1,120.3 88.6,121.2 89.0,123.1 89.5,124.2 90.0,125.2 90.6,123.8 91.2,123.9 91.7,126.3 92.2,124.7 92.8,122.5 93.4,121.1 93.9,119.7 94.5,119.8 95.0,120.6 95.5,121.0 96.1,120.2 96.6,122.3 97.2,124.1 97.8,127.0 98.3,129.6 98.9,129.6 99.4,128.7 100.0,128.8 100.6,126.7 101.1,125.1 101.7,124.3 102.2,125.8 102.8,126.3 103.3,125.9 103.9,126.6 104.4,127.2 105.0,127.6 105.5,126.6 106.1,127.1 106.7,126.2 107.2,125.7 107.8,125.0 108.3,125.4 108.9,126.6 109.4,126.7 109.9,127.4 110.3,127.5 110.8,126.2 111.3,126.0 111.7,126.7 112.2,126.1 112.7,126.9 113.3,126.0 113.8,126.6 114.4,126.6 114.9,127.4 115.5,127.2 116.0,127.1 116.6,126.6 117.2,126.0 117.7,125.0 118.2,122.1 118.8,121.2 119.4,119.8 119.9,116.4 120.5,117.5 121.0,118.9 121.6,119.5 122.1,119.7 122.7,120.6 123.2,120.7 123.8,122.0 124.3,123.6 124.9,122.9 125.5,124.5 126.0,125.3 126.5,123.5 127.1,122.9 127.6,123.5 128.2,122.7 128.8,121.0 129.3,119.4 129.8,119.4 130.4,119.8 130.9,122.1 131.5,123.7 132.1,123.7 132.6,126.6 133.1,128.1 133.5,128.2 134.0,128.5 134.4,128.1 134.9,129.9 135.4,128.8 135.8,129.2 136.3,129.5 136.8,132.2 137.3,131.8 137.7,131.2 138.2,131.8 138.7,133.1 139.1,132.5 139.6,133.5 140.1,134.8 140.5,134.2 141.0,133.3 141.6,134.5 142.1,135.7 142.6,136.9 143.2,138.7 143.7,135.0 144.3,130.8 144.8,127.4 145.4,127.3 145.9,129.2 146.4,127.3 147.0,127.6 147.5,127.8 147.9,127.7 148.4,126.9 148.9,126.4 149.4,126.5 149.8,125.9 150.3,124.8 150.8,124.7 151.3,123.5 151.8,122.4 152.3,123.1 152.8,121.8 153.3,121.2 153.8,121.4 154.2,123.4 154.7,121.6 155.2,122.1 155.7,123.1 156.1,123.2 156.6,123.1 157.1,123.0 157.6,123.2 158.1,123.2 158.6,122.9 159.1,123.4 159.6,121.5 160.1,122.1 160.6,122.2 161.1,121.4 161.6,122.1 162.1,122.4 162.6,121.2 163.1,121.7 163.6,121.8 164.0,121.9 164.5,121.3 165.0,119.6 165.5,119.9 166.0,119.8 166.5,119.6 167.0,120.3 167.5,121.1 167.9,120.5 168.4,121.0 168.9,121.4 169.4,121.4 169.9,122.2 170.4,121.4 170.9,121.2 171.4,121.1 171.8,120.5 172.3,118.9 172.8,119.2 173.3,120.2 173.8,119.6 174.4,118.7 174.9,118.0 175.4,118.2 176.0,118.5 176.5,117.3 177.0,117.3 177.5,116.4 178.0,116.9 178.5,117.1 179.0,116.5 179.5,117.4 180.0,115.9 180.5,117.7 181.0,118.3 181.5,118.6 182.1,119.8 182.6,123.1 183.1,124.3 183.7,124.9 184.2,127.9 184.6,127.9 185.1,129.1 185.5,131.4 186.0,133.6 186.6,135.5 187.1,135.4 187.6,138.4 188.2,140.3 188.8,139.4 189.3,138.4 189.8,138.6 190.4,138.1 190.9,137.3 191.5,134.1 192.1,134.2 192.6,132.3 193.1,130.8 193.5,130.4 194.0,130.7 194.5,130.8 194.9,129.9 195.4,128.2 195.9,129.2 196.3,129.6 196.8,129.4 197.3,129.0 197.8,127.5 198.2,126.1 198.7,125.6 199.2,126.4 199.8,129.0 200.3,128.1 200.9,128.3 201.4,129.8 202.0,132.0 202.6,132.6 203.1,133.2 203.7,130.4 204.2,129.4 204.8,129.4 205.3,127.9 205.9,126.4 206.4,124.0 206.9,124.9 207.5,126.7 208.1,127.3 208.6,127.2 209.2,128.3 209.7,128.2 210.2,127.5 210.8,126.3 211.3,124.5 211.7,126.4 212.2,124.1 212.7,124.3 213.1,124.9 213.6,123.6 214.1,123.6 214.5,123.9 215.0,124.5 215.5,124.9 215.9,124.2 216.4,123.4 216.9,124.4 217.5,124.7 218.0,124.2 218.6,123.6 219.1,124.3 219.7,125.4 220.2,128.0 220.8,129.4 221.3,131.5 221.8,133.6 222.2,135.4 222.7,136.2 223.1,138.7 223.6,139.5 224.1,139.9 224.7,140.2 225.2,139.7 225.8,140.6 226.3,140.7 226.8,141.1 227.2,139.3 227.7,136.7 228.2,135.1 228.8,135.0 229.3,135.4 229.8,132.3 230.4,133.8 230.9,132.4 231.3,131.9 231.8,132.0 232.3,132.0 232.8,131.0 233.2,131.1 233.7,130.6 234.2,131.3 234.7,131.0 235.2,129.1 235.6,130.4 236.1,129.6 236.6,129.4 237.1,129.1 237.6,128.3 238.0,128.4 238.5,127.1 239.0,126.9 239.5,126.9 239.9,127.1 240.4,128.4 240.9,127.6 241.3,126.3 241.8,126.5 242.3,125.6 242.8,126.8 243.2,127.4 243.7,127.2 244.2,127.2 244.6,126.4 245.1,126.3 245.6,126.4 246.1,126.8 246.5,127.3 247.0,126.5 247.5,126.3 247.9,126.3 248.4,126.0 248.9,127.4 249.3,127.1 249.8,126.7 250.4,125.7 250.9,126.1 251.4,128.2 252.0,127.0 252.5,126.4 252.9,125.4 253.4,124.5 253.9,125.0 254.3,124.8 254.8,124.5 255.3,123.4 255.7,123.3 256.2,123.4 256.7,122.0 257.2,121.7 257.6,122.0 258.1,121.2 258.6,122.4 259.2,121.8 259.7,121.5 260.3,122.3 260.8,123.0 261.3,123.4 261.7,123.8 262.2,123.4 262.7,123.9 263.1,123.2 263.6,123.0 264.1,123.6 264.5,124.5 265.0,124.5 265.5,124.1 266.0,124.9 266.4,126.9 266.9,124.9 267.4,125.4 267.8,125.3 268.3,124.5 268.8,123.1 269.3,123.8 269.7,124.3 270.2,124.1 270.7,123.3 271.2,123.8 271.7,124.2 272.1,123.4 272.6,122.9 273.1,123.8 273.6,124.2 274.1,124.1 274.7,123.4 275.2,122.5 275.8,121.1 276.3,120.8 276.9,121.8 277.4,122.6 278.0,123.3 278.5,122.4 278.9,122.6 279.4,123.8 279.9,125.1 280.3,126.1 280.8,125.5 281.4,129.4 281.9,129.6 282.4,131.2 283.0,132.1 283.5,133.2 284.1,134.3 284.6,135.0 285.2,131.8 285.7,131.3 286.2,128.8 286.8,125.8 287.3,127.2 287.7,128.5 288.2,129.1 288.6,129.5 289.1,131.9 289.7,131.7 290.2,131.7 290.8,132.2 291.3,133.6 291.9,132.4 292.4,131.4 292.9,131.0 293.5,129.9 294.1,128.0 294.6,126.1 295.1,125.1 295.7,124.0 296.2,125.1 296.8,126.1 297.3,126.8 297.9,126.4 298.4,125.0 299.0,124.9 299.6,124.8 300.1,125.1 300.6,124.3 301.1,123.9 301.5,123.6 302.0,122.0 302.6,121.7 303.1,121.3 303.6,121.2 304.2,120.1 304.7,118.9 305.1,117.3 305.6,116.0 306.1,115.3 306.5,114.4 307.0,113.7 307.5,113.4 308.1,113.7 308.6,114.8 309.2,114.0 309.7,116.4 310.2,116.3 310.6,115.3 311.1,115.6 311.5,117.2 312.0,118.2 312.6,117.6 313.1,114.3 313.6,112.7 314.2,110.5 314.8,113.3 315.3,114.3 315.8,114.6 316.4,116.1 316.9,117.8 317.5,121.6 318.1,125.1 318.6,125.1 319.2,127.4 319.7,127.1 320.2,127.9 320.8,128.3 321.4,126.8 321.9,127.1 322.4,127.1 323.0,125.2 323.6,123.0 324.1,121.7 324.6,121.3 325.2,119.5 325.8,118.1 326.3,117.0 326.8,117.4 327.4,116.9 327.9,120.0 328.3,122.4 328.8,123.1 329.2,127.2 329.7,130.3 330.2,126.5 330.8,123.6 331.3,121.9 331.9,119.2 332.4,119.1 333.0,117.8 333.6,118.2 334.1,117.8 334.7,120.1 335.2,121.2 335.8,121.1 336.3,122.0 336.9,122.6 337.4,123.5 337.9,123.5 338.5,125.3 339.1,124.8 339.6,121.3 340.1,121.6 340.7,117.5 341.2,117.3 341.6,118.0 342.1,118.4 342.6,117.9 343.0,118.3 343.5,120.3 344.1,120.8 344.6,121.6 345.1,121.9 345.7,122.1 346.2,123.4 346.6,124.4 347.1,124.5 347.6,125.0 348.0,126.6 348.5,125.9 349.0,127.8 349.6,128.4 350.1,129.5 350.7,130.3 351.2,130.5 351.7,129.8 352.1,129.2 352.6,131.0 353.1,131.3 353.6,129.9 354.0,131.3 354.5,130.8 355.0,131.4 355.5,131.7 356.0,132.6 356.4,133.4 356.9,131.4 357.4,131.7 357.9,131.7 358.4,131.9 358.9,132.4 359.3,131.6 359.8,131.3 360.3,130.6 360.8,131.0 361.2,131.0 361.7,132.3 362.3,131.5 362.8,130.4 363.4,131.7 363.9,131.0 364.3,130.6 364.8,127.9 365.3,126.8 365.7,125.5 366.2,124.9 366.8,125.3 367.3,126.7 367.8,126.7 368.4,128.1 368.9,128.8 369.5,131.2 370.1,132.7 370.6,133.5 371.2,130.8 371.7,128.1 372.2,126.9 372.8,124.8 373.3,123.8 373.7,123.1 374.2,121.4 374.7,120.6 375.1,120.5 375.6,121.6 376.1,119.4 376.7,119.4 377.2,119.7 377.8,120.4 378.3,119.6 378.8,118.6 379.2,117.9 379.7,117.8 380.2,117.7 380.7,117.3 381.1,118.0 381.6,118.4 382.1,117.9 382.5,118.3 383.0,116.8 383.5,114.9 384.1,114.0 384.6,115.6 385.2,115.6 385.7,113.6 386.2,116.5 386.8,117.4 387.4,120.0 387.9,123.7 388.5,127.0 389.1,127.3 389.6,128.1 390.1,125.1 390.7,120.6 391.2,117.8 391.7,116.6 392.2,115.2 392.6,118.0 393.1,121.0 393.5,123.8 394.0,122.8 394.6,121.8 395.1,120.5 395.6,121.2 396.0,120.5 396.5,121.1 396.9,120.7 397.4,121.1 397.9,121.5 398.5,119.9 399.1,120.4 399.6,119.0 400.2,118.0 400.7,116.7 401.2,117.2 401.8,117.2 402.3,118.0 402.9,117.3 403.4,116.3 404.0,116.6 404.5,117.8 405.0,117.1 405.4,116.9 405.9,116.2 406.4,116.1 406.8,116.4 407.3,115.0 407.8,114.7 408.2,115.3 408.7,116.0 409.2,117.2 409.6,117.0 410.1,117.4 410.7,117.7 411.2,116.9 411.8,116.7 412.3,117.5 412.9,121.1 413.4,121.6 413.9,120.0 414.5,118.3 415.1,118.6 415.6,118.6 416.1,118.3 416.5,117.9 417.0,117.3 417.5,118.2 418.0,118.4 418.4,118.4 418.9,116.7 419.4,116.5 419.8,116.9 420.3,117.3 420.8,117.9 421.3,117.6 421.7,116.3 422.2,117.8 422.7,118.5 423.2,118.4 423.7,117.8 424.1,116.5 424.6,118.6 425.1,118.3 425.6,117.7 426.1,119.1 426.5,117.7 427.0,117.0 427.5,118.0 428.0,118.3 428.4,117.9 428.9,119.8 429.4,119.3 429.8,117.9 430.3,117.3 430.8,117.7 431.3,117.8 431.7,118.3 432.2,119.3 432.7,119.5 433.1,117.8 433.6,118.1 434.1,117.7 434.6,117.7 435.0,119.6 435.5,117.5 436.0,116.6 436.4,115.9 436.9,115.9 437.4,117.1 437.8,117.4 438.3,117.5 438.8,117.3 439.2,116.8 439.7,117.3 440.2,116.9 440.6,116.3 441.1,114.4 441.7,114.0 442.2,115.7 442.8,115.3 443.3,113.3 443.8,113.5 444.4,113.1 444.9,113.0 445.5,113.1 446.0,113.8 446.6,114.2 447.1,115.8 447.7,118.0 448.2,119.7 448.8,123.2 449.3,123.4 449.9,126.9 450.5,126.4 451.0,127.2 451.6,128.9 452.2,129.6 452.7,128.4 453.2,127.8 453.8,127.0 454.4,127.7 454.9,126.8 455.4,127.6 456.0,124.9 456.4,125.4 456.9,126.2 457.3,126.7 457.8,124.4 458.2,124.3 458.7,124.1 459.2,123.9 459.7,123.4 460.1,121.0 460.6,120.1 461.1,119.4 461.6,120.0 462.1,120.5 462.5,118.8 463.0,118.5 463.5,118.8 464.0,118.4 464.5,116.4 464.9,115.6 465.4,117.3 465.9,116.9 466.4,115.0 466.9,114.5 467.3,115.2 467.8,113.7 468.4,115.7 468.9,117.9 469.4,121.2 470.0,124.7 470.5,126.5 470.9,127.1 471.4,128.9 471.8,128.9 472.3,129.4 472.8,128.4 473.4,128.7 473.9,128.8 474.5,128.2 475.0,125.6 475.5,123.9 475.9,122.3 476.4,121.5 476.9,120.7 477.3,119.6 477.8,118.6 478.3,116.1 478.9,116.7 479.4,115.1 480.0,114.1 480.5,113.2 481.0,111.8 481.4,110.5 481.9,109.4 482.4,108.8 482.8,108.0 483.3,108.4 483.9,108.5 484.4,108.2 484.9,108.8 485.5,110.3 486.1,111.5 486.6,113.8 487.2,115.4 487.8,120.7 488.3,123.5 488.8,127.5 489.4,131.5 490.0,130.7 490.5,128.8 491.1,126.7 491.7,125.3 492.2,125.5 492.8,125.6 493.3,125.0 493.8,126.0 494.4,126.6 494.9,129.3 495.4,130.5 496.0,131.8 496.6,132.5 497.1,134.4 497.6,132.7 498.0,131.2 498.5,128.9 498.9,128.4 499.4,127.7 499.9,126.6 500.5,127.6 501.1,127.1 501.6,128.9 502.1,127.2 502.5,126.6 503.0,125.6 503.5,125.4 504.0,124.7 504.4,126.3 504.9,126.1 505.4,124.9 505.8,124.6 506.3,124.4 506.8,124.9 507.3,124.7 507.7,123.3 508.2,122.3 508.7,124.3 509.1,124.6 509.6,125.2 510.1,125.7 510.6,124.4 511.0,124.9 511.5,126.7 512.0,127.0 512.5,127.6 513.0,128.0 513.5,126.9 513.9,126.7 514.4,127.8 514.9,127.3 515.4,128.4 516.0,131.5 516.5,131.4 517.1,132.4 517.6,131.9 518.0,132.1 518.5,132.7 519.0,132.1 519.5,131.9 519.9,132.7 520.4,134.0 520.9,134.4 521.4,133.1 521.9,133.1 522.4,133.2 522.8,133.2 523.3,133.2 523.8,133.3 524.3,133.3 524.8,133.3 525.3,133.4 525.8,133.5 526.3,133.5 526.8,133.6 527.2,133.6 527.7,133.7 528.2,133.7 528.7,133.8 529.2,133.9 529.7,133.8 530.2,133.8 530.7,133.7 531.2,133.7 531.6,133.7 532.1,133.6 532.6,133.6 533.1,133.5 533.6,133.5 534.1,133.5 534.6,133.4 535.1,133.4 535.6,133.4 536.1,133.3 536.6,133.3 537.1,133.3 537.6,133.2 538.1,133.2 538.6,133.2 539.1,133.1 539.6,133.1 540.1,133.1 540.6,133.0 541.1,133.0 541.6,133.0 542.1,133.1 542.6,133.1 543.1,133.2 543.6,133.2 544.1,133.3 544.6,133.3 545.1,133.3 545.6,133.4 546.1,133.4 546.6,133.5 547.1,133.5 547.6,133.4 548.1,133.4 548.6,133.4 549.1,133.4 549.6,133.4 550.1,133.4 550.6,133.4 551.1,133.4 551.6,133.3 552.1,133.3 552.6,133.3 553.1,133.3 553.6,133.3 554.1,133.2 554.6,133.2 555.2,133.2 555.7,133.2 556.2,133.2 556.7,133.2 557.2,133.1 557.7,133.1 558.2,133.1 558.7,132.8 559.1,132.5 559.6,132.3 560.1,132.0 560.5,131.7 561.0,131.5 561.5,132.6 562.1,132.1 562.6,131.0 563.2,132.4 563.7,134.8 564.3,133.9 564.8,132.5 565.4,131.3 566.0,129.5 566.5,128.1 567.0,125.1 567.6,125.9 568.2,121.1 568.7,118.0 569.3,120.0 569.8,120.8 570.4,120.4 570.9,119.8 571.5,119.8 572.0,120.2 572.6,120.3 573.1,119.7 573.6,119.6 574.0,119.7 574.5,120.9 574.9,122.1 575.4,122.7 575.9,120.9 576.5,122.3 577.0,122.9 577.6,122.2 578.1,123.1 578.6,124.6 579.0,124.1 579.5,125.9 580.0,126.6 580.4,127.9 580.9,128.2 581.5,125.9 582.0,125.5 582.5,125.0 583.1,123.6 583.6,124.3 584.2,124.0 584.8,123.9 585.3,124.4 585.9,122.9 586.4,122.8 587.0,121.3 587.5,123.2 588.1,125.3 588.6,127.1 589.1,125.4 589.7,124.4 590.2,124.0 590.8,123.2 591.3,122.9 591.7,123.3 592.2,124.3 592.6,123.7 593.1,124.6 593.6,125.6 594.2,126.1 594.8,126.3 595.3,127.5 595.8,126.9 596.4,128.8 596.9,129.8 597.5,129.4 598.0,128.2 598.5,129.3 598.9,129.5 599.4,129.5 599.9,131.1 600.3,130.7 600.8,130.1 601.3,131.4 601.7,132.0 602.2,131.2 602.7,130.9 603.1,129.9 603.6,128.9 604.1,130.7 604.7,129.9 605.2,131.4 605.8,131.7 606.3,130.9 606.8,131.7 607.2,134.3 607.7,135.3 608.2,129.9 608.8,125.2 609.3,125.7 609.9,124.0 610.4,123.6 611.0,122.4 611.5,119.1 612.0,118.3 612.6,115.1 613.2,114.4 613.7,114.9 614.3,111.9 614.9,113.2 615.4,114.9 616.0,115.9 616.5,117.2 617.1,118.3 617.6,119.4 618.0,119.6 618.5,121.2 619.0,121.3 619.5,121.8 619.9,121.8 620.4,121.0 620.9,121.7 621.5,119.8 622.0,119.3 622.6,119.4 623.1,118.6 623.6,118.8 624.0,119.0 624.5,118.0 625.0,117.5 625.4,118.0 625.9,117.7 626.4,116.4 626.8,117.8 627.3,118.3 627.8,117.7 628.3,117.3 628.7,118.5 629.2,117.7 629.7,118.2 630.1,119.9 630.6,119.2 631.1,118.5 631.6,119.8 632.0,120.2 632.5,119.6 633.0,119.4 633.4,120.9 633.9,120.8 634.4,120.0 634.8,122.4 635.3,121.3 635.8,122.2 636.4,122.6 637.0,122.8 637.5,122.7 638.0,122.2 638.4,121.2 638.9,119.8 639.4,119.7 639.8,119.5 640.3,119.9 640.8,120.2 641.2,119.5 641.7,119.3 642.2,119.7 642.7,119.3 643.1,117.9 643.6,116.8 644.1,117.7 644.5,117.9 645.0,116.0 645.5,116.0 646.0,116.2 646.4,116.4 646.9,115.4 647.4,116.5 647.8,116.0 648.3,116.9 648.8,116.9 649.3,117.3 649.7,116.6 650.2,117.3 650.7,116.9 651.2,116.5 651.7,116.1 652.2,118.1 652.7,116.5 653.2,116.0 653.7,115.9 654.2,116.8 654.7,117.4 655.2,118.6 655.7,118.3 656.2,117.4 656.7,117.1 657.1,116.6 657.6,116.3 658.1,118.1 658.6,117.8 659.1,117.7 659.6,118.0 660.1,118.2 660.6,117.5 661.1,119.2 661.6,118.5 662.1,117.7 662.6,117.7 663.1,119.2 663.6,116.6 664.1,118.2" fill="none" stroke="#8a0000" stroke-width="1.2" stroke-linejoin="round" stroke-linecap="round"/>
<text transform="translate(70.50,174.60) scale(1.4500,1)" text-anchor="end" font-size="16" font-weight="normal" fill="#000" font-family='"Liberation Sans", sans-serif' >-5</text>
<text transform="translate(70.50,142.00) scale(1.4500,1)" text-anchor="end" font-size="16" font-weight="normal" fill="#000" font-family='"Liberation Sans", sans-serif' >0</text>
<text transform="translate(70.50,109.40) scale(1.4500,1)" text-anchor="end" font-size="16" font-weight="normal" fill="#000" font-family='"Liberation Sans", sans-serif' >5</text>
<text transform="translate(70.50,76.80) scale(1.4500,1)" text-anchor="end" font-size="16" font-weight="normal" fill="#000" font-family='"Liberation Sans", sans-serif' >10</text>
<text transform="translate(70.50,44.20) scale(1.4500,1)" text-anchor="end" font-size="16" font-weight="normal" fill="#000" font-family='"Liberation Sans", sans-serif' >15</text>
<text transform="translate(75.00,186.80) scale(1.4500,1)" text-anchor="middle" font-size="16" font-weight="normal" fill="#000" font-family='"Liberation Sans", sans-serif' >0</text>
<text transform="translate(153.40,186.80) scale(1.4500,1)" text-anchor="middle" font-size="16" font-weight="normal" fill="#000" font-family='"Liberation Sans", sans-serif' >50</text>
<text transform="translate(231.40,186.80) scale(1.4500,1)" text-anchor="middle" font-size="16" font-weight="normal" fill="#000" font-family='"Liberation Sans", sans-serif' >100</text>
<text transform="translate(309.40,186.80) scale(1.4500,1)" text-anchor="middle" font-size="16" font-weight="normal" fill="#000" font-family='"Liberation Sans", sans-serif' >150</text>
<text transform="translate(387.40,186.80) scale(1.4500,1)" text-anchor="middle" font-size="16" font-weight="normal" fill="#000" font-family='"Liberation Sans", sans-serif' >200</text>
<text transform="translate(465.40,186.80) scale(1.4500,1)" text-anchor="middle" font-size="16" font-weight="normal" fill="#000" font-family='"Liberation Sans", sans-serif' >250</text>
<text transform="translate(543.40,186.80) scale(1.4500,1)" text-anchor="middle" font-size="16" font-weight="normal" fill="#000" font-family='"Liberation Sans", sans-serif' >300</text>
<text transform="translate(621.40,186.80) scale(1.4500,1)" text-anchor="middle" font-size="16" font-weight="normal" fill="#000" font-family='"Liberation Sans", sans-serif' >350</text>
<text transform="translate(699.40,186.80) scale(1.4500,1)" text-anchor="middle" font-size="16" font-weight="normal" fill="#000" font-family='"Liberation Sans", sans-serif' >400</text>
<line x1="75.50" y1="200.50" x2="75.50" y2="314.40" stroke="#808080" stroke-width="1.3"/>
<line x1="75.50" y1="314.40" x2="699.60" y2="314.40" stroke="#808080" stroke-width="1.3"/>
<line x1="699.60" y1="200.50" x2="699.60" y2="314.40" stroke="#a0a0a0" stroke-width="1.0"/>
<line x1="75.50" y1="200.50" x2="699.60" y2="200.50" stroke="#a0a0a0" stroke-width="1.0"/>
<line x1="75.50" y1="285.92" x2="699.60" y2="285.92" stroke="#7a7a7a" stroke-width="1.3" stroke-dasharray="6.9,6.82"/>
<line x1="75.50" y1="257.45" x2="699.60" y2="257.45" stroke="#7a7a7a" stroke-width="1.3" stroke-dasharray="6.9,6.82"/>
<line x1="75.50" y1="228.97" x2="699.60" y2="228.97" stroke="#7a7a7a" stroke-width="1.3" stroke-dasharray="6.9,6.82"/>
<line x1="153.00" y1="314.40" x2="153.00" y2="200.50" stroke="#8a8a8a" stroke-width="1.0" stroke-dasharray="6.9,6.82"/>
<line x1="231.10" y1="314.40" x2="231.10" y2="200.50" stroke="#8a8a8a" stroke-width="1.0" stroke-dasharray="6.9,6.82"/>
<line x1="309.20" y1="314.40" x2="309.20" y2="200.50" stroke="#8a8a8a" stroke-width="1.0" stroke-dasharray="6.9,6.82"/>
<line x1="387.30" y1="314.40" x2="387.30" y2="200.50" stroke="#8a8a8a" stroke-width="1.0" stroke-dasharray="6.9,6.82"/>
<line x1="465.40" y1="314.40" x2="465.40" y2="200.50" stroke="#8a8a8a" stroke-width="1.0" stroke-dasharray="6.9,6.82"/>
<line x1="543.50" y1="314.40" x2="543.50" y2="200.50" stroke="#8a8a8a" stroke-width="1.0" stroke-dasharray="6.9,6.82"/>
<line x1="621.60" y1="314.40" x2="621.60" y2="200.50" stroke="#8a8a8a" stroke-width="1.0" stroke-dasharray="6.9,6.82"/>
<polyline points="75.7,277.1 76.2,277.1 76.7,277.1 77.2,277.1 77.8,277.1 78.3,277.1 78.8,277.1 79.3,277.1 79.8,277.1 80.3,277.1 80.8,277.1 81.3,277.1 81.9,277.1 82.4,277.1 82.9,277.1 83.4,277.1 84.0,275.3 84.5,272.4 85.0,272.7 85.6,269.7 86.1,268.1 86.7,267.4 87.2,266.4 87.8,266.2 88.3,266.6 88.9,265.4 89.5,266.4 90.0,266.7 90.5,267.9 90.9,267.8 91.4,267.7 91.8,268.7 92.3,270.9 92.8,272.7 93.4,273.2 94.0,274.0 94.5,275.4 95.0,274.4 95.6,274.2 96.2,272.9 96.7,272.3 97.2,272.6 97.8,271.7 98.4,270.9 98.9,270.2 99.4,269.5 99.8,269.8 100.3,271.5 100.8,271.5 101.2,271.1 101.7,271.0 102.2,271.0 102.8,271.2 103.3,272.2 103.9,271.6 104.4,271.9 104.9,270.9 105.3,270.6 105.8,269.7 106.3,268.4 106.7,269.3 107.2,268.2 107.8,267.2 108.3,267.6 108.9,267.0 109.4,266.5 110.0,267.7 110.5,267.5 111.1,268.8 111.6,267.6 112.2,270.5 112.8,269.2 113.3,270.8 113.8,271.2 114.4,270.1 114.9,270.8 115.5,270.9 116.0,270.4 116.5,272.1 117.0,272.8 117.5,272.6 117.9,274.2 118.4,275.4 118.9,275.7 119.4,274.9 119.9,277.0 120.3,277.1 120.8,277.7 121.3,278.6 121.8,280.2 122.2,281.1 122.7,281.8 123.2,282.0 123.8,282.3 124.3,283.5 124.9,283.9 125.4,283.5 125.9,284.3 126.3,284.2 126.8,284.4 127.3,285.1 127.7,285.5 128.2,284.8 128.8,285.6 129.3,286.7 129.8,286.3 130.4,284.9 130.9,283.9 131.5,283.0 132.1,283.9 132.6,284.1 133.1,283.0 133.5,283.5 134.0,284.8 134.5,286.0 134.9,284.6 135.4,286.3 135.9,284.3 136.5,283.1 137.1,283.3 137.6,281.4 138.2,279.6 138.7,280.5 139.2,279.5 139.8,276.8 140.4,276.5 140.9,273.1 141.4,272.7 142.0,270.6 142.6,268.7 143.1,266.9 143.6,264.5 144.2,261.6 144.7,261.4 145.1,261.5 145.6,263.0 146.0,262.8 146.5,262.3 147.1,264.7 147.6,264.4 148.1,265.9 148.7,266.7 149.2,266.1 149.8,265.6 150.3,265.6 150.9,265.8 151.4,265.2 151.8,265.5 152.2,266.8 152.8,266.0 153.3,264.9 153.8,263.6 154.4,262.2 154.9,262.7 155.5,261.1 156.1,259.3 156.6,257.2 157.2,258.5 157.7,260.2 158.2,261.6 158.8,262.4 159.3,261.8 159.7,261.3 160.2,263.4 160.6,263.8 161.1,264.2 161.6,264.3 162.2,263.6 162.7,263.1 163.3,264.9 163.8,265.4 164.3,266.7 164.7,266.8 165.2,267.1 165.7,267.8 166.1,269.9 166.6,268.5 167.1,268.4 167.5,269.4 168.0,271.3 168.5,271.7 168.9,271.6 169.4,273.4 169.9,275.3 170.5,275.2 171.0,274.0 171.6,276.2 172.1,275.7 172.7,277.1 173.2,277.5 173.8,277.5 174.3,276.8 174.8,276.1 175.2,275.6 175.7,275.9 176.2,276.1 176.6,277.1 177.1,278.6 177.6,279.5 178.0,278.8 178.5,279.2 179.0,279.3 179.4,279.2 179.9,277.9 180.4,279.2 181.0,280.3 181.6,282.2 182.1,283.8 182.7,284.6 183.2,284.1 183.8,285.2 184.3,285.4 184.9,284.1 185.4,283.7 185.9,283.3 186.5,282.2 187.1,282.7 187.6,280.1 188.1,278.5 188.7,277.6 189.2,276.0 189.8,274.6 190.3,273.0 190.9,272.9 191.4,271.4 192.0,270.3 192.6,268.8 193.1,265.9 193.6,266.0 194.0,267.2 194.5,269.0 194.9,267.9 195.4,267.7 195.9,268.9 196.5,269.7 197.0,269.3 197.6,270.9 198.1,270.2 198.6,270.9 199.0,272.1 199.5,271.9 200.0,272.0 200.4,273.0 200.9,272.1 201.4,270.6 202.0,270.6 202.6,269.4 203.1,268.0 203.6,267.2 204.0,267.8 204.5,266.9 205.0,267.1 205.4,267.0 205.9,266.5 206.4,265.6 207.0,267.5 207.5,268.0 208.1,266.6 208.6,266.9 209.1,267.8 209.5,267.4 210.0,268.1 210.5,269.6 211.0,269.7 211.4,269.2 211.9,269.9 212.4,272.6 212.8,271.1 213.3,272.1 213.8,273.6 214.2,275.1 214.7,274.7 215.2,275.9 215.6,277.8 216.1,278.7 216.6,278.1 217.0,280.8 217.5,282.6 218.0,282.4 218.6,281.2 219.1,282.4 219.7,282.9 220.2,282.4 220.7,281.5 221.1,281.5 221.6,281.5 222.0,280.8 222.5,281.5 223.0,279.4 223.6,279.0 224.1,277.5 224.7,276.4 225.2,276.0 225.7,276.1 226.2,274.3 226.7,272.0 227.2,271.8 227.7,271.0 228.2,269.9 228.8,269.3 229.3,268.8 229.9,268.6 230.4,269.3 230.9,268.7 231.5,268.7 232.1,271.8 232.6,272.7 233.1,273.4 233.7,273.9 234.3,275.6 234.8,275.9 235.4,276.3 236.0,275.2 236.5,275.6 237.1,275.5 237.7,273.0 238.2,271.5 238.8,270.5 239.3,267.3 239.9,266.6 240.4,265.2 240.9,264.7 241.5,263.1 242.1,261.0 242.6,260.4 243.1,259.7 243.7,257.1 244.3,255.6 244.8,255.9 245.4,253.7 245.9,252.1 246.5,253.1 247.1,253.9 247.6,253.1 248.1,254.3 248.7,256.7 249.2,258.5 249.8,261.0 250.3,264.2 250.9,264.6 251.4,263.5 251.9,266.3 252.5,267.5 253.1,266.7 253.6,263.2 254.2,261.7 254.8,259.7 255.3,258.2 255.9,259.3 256.4,260.5 257.0,262.3 257.5,264.7 258.1,268.1 258.6,270.2 259.2,270.7 259.7,267.7 260.3,267.9 260.9,263.8 261.4,260.7 262.0,259.2 262.5,260.8 263.1,262.2 263.6,264.3 264.2,267.1 264.7,269.1 265.3,270.4 265.9,273.5 266.4,274.9 266.9,272.1 267.5,270.8 268.0,268.2 268.6,266.1 269.1,264.9 269.6,263.7 270.2,262.2 270.8,261.2 271.4,259.9 271.9,261.3 272.5,263.7 273.0,266.0 273.6,268.0 274.1,269.5 274.6,273.1 275.2,274.8 275.8,275.1 276.3,274.6 276.9,274.0 277.4,271.8 278.0,269.7 278.6,267.8 279.1,265.4 279.7,267.2 280.2,270.4 280.8,272.9 281.3,275.3 281.9,276.9 282.4,279.2 283.0,276.7 283.5,274.0 284.1,271.4 284.6,271.6 285.2,271.1 285.7,269.9 286.3,270.5 286.8,272.9 287.4,275.4 287.9,272.2 288.5,272.2 289.1,271.7 289.6,270.5 290.2,268.1 290.7,265.7 291.2,265.3 291.8,263.9 292.4,263.6 292.9,264.1 293.5,264.5 294.0,264.7 294.6,264.4 295.1,265.0 295.5,266.1 296.0,266.7 296.5,266.0 296.9,268.5 297.4,268.0 297.9,267.7 298.5,269.1 299.0,270.3 299.6,271.1 300.1,273.3 300.6,273.5 301.1,274.2 301.5,274.8 302.0,275.2 302.5,275.7 302.9,275.4 303.4,277.0 303.9,277.8 304.3,277.5 304.8,277.3 305.4,276.4 305.9,278.2 306.4,277.4 307.0,276.6 307.5,275.9 308.1,274.9 308.6,275.1 309.2,274.3 309.7,273.8 310.2,272.5 310.6,273.4 311.1,275.3 311.5,276.6 312.0,278.4 312.5,276.6 313.1,274.0 313.6,272.1 314.2,271.3 314.7,270.3 315.2,268.6 315.6,266.9 316.1,264.6 316.6,263.8 317.0,262.5 317.5,261.4 318.1,257.9 318.6,258.2 319.1,253.3 319.7,252.8 320.3,251.4 320.8,251.6 321.4,249.8 321.9,251.0 322.5,253.4 323.1,255.2 323.6,258.1 324.1,258.6 324.7,260.8 325.2,260.2 325.8,262.2 326.3,263.1 326.8,262.7 327.2,261.9 327.7,261.0 328.2,261.0 328.6,259.5 329.1,258.7 329.6,258.3 330.0,257.2 330.5,258.3 331.0,259.0 331.4,258.9 331.9,257.5 332.4,258.8 333.0,260.5 333.6,260.0 334.1,261.2 334.6,260.4 335.0,260.2 335.5,261.3 336.0,260.8 336.5,259.7 336.9,259.0 337.4,258.2 337.9,256.8 338.3,254.1 338.8,253.7 339.3,252.1 339.7,251.4 340.2,251.3 340.7,246.3 341.3,245.4 341.8,242.0 342.4,243.5 342.9,246.2 343.4,248.7 344.0,250.8 344.6,253.2 345.1,255.1 345.6,257.7 346.2,258.4 346.7,257.5 347.1,256.7 347.6,256.8 348.1,256.3 348.5,256.5 349.0,255.5 349.6,252.6 350.1,251.0 350.6,250.0 351.2,249.3 351.7,249.3 352.1,252.1 352.6,252.4 353.1,252.7 353.5,253.7 354.0,255.0 354.5,256.3 354.9,257.7 355.4,259.4 355.9,261.0 356.4,261.5 356.8,262.8 357.3,264.2 357.9,263.5 358.4,263.4 358.9,263.5 359.5,261.5 360.0,264.7 360.4,264.5 360.9,265.7 361.4,268.1 361.8,269.2 362.3,268.3 362.8,269.8 363.4,270.1 363.9,272.2 364.5,273.9 365.0,274.5 365.5,272.2 366.0,271.5 366.5,271.7 366.9,270.7 367.4,269.2 367.9,268.6 368.4,266.5 368.9,267.3 369.5,267.4 370.0,265.3 370.6,265.3 371.1,266.3 371.6,266.3 372.0,266.2 372.5,265.8 373.0,266.1 373.4,267.6 373.9,269.3 374.4,268.3 374.8,268.9 375.3,269.8 375.8,271.1 376.3,271.9 376.7,271.4 377.2,272.7 377.7,273.0 378.1,271.8 378.6,270.6 379.1,269.8 379.5,268.8 380.0,267.3 380.5,269.0 381.0,268.2 381.4,267.1 381.9,267.1 382.4,268.3 382.9,269.3 383.5,269.6 384.1,268.9 384.6,270.8 385.2,269.6 385.7,272.0 386.2,271.5 386.8,272.4 387.3,273.1 387.8,273.4 388.3,274.6 388.7,274.1 389.2,274.2 389.7,274.2 390.2,275.1 390.7,276.9 391.3,277.6 391.8,277.4 392.4,279.2 392.9,281.6 393.4,280.5 394.0,279.3 394.6,278.6 395.1,277.3 395.6,277.0 396.0,278.5 396.5,277.3 397.0,276.5 397.4,275.2 397.9,275.1 398.4,276.0 398.8,274.5 399.3,275.2 399.8,275.3 400.3,275.4 400.7,275.6 401.2,275.1 401.7,274.3 402.1,274.4 402.6,274.6 403.1,271.8 403.6,269.8 404.0,268.8 404.5,268.6 405.0,271.3 405.4,272.0 405.9,271.9 406.4,272.3 406.8,272.1 407.3,273.2 407.8,274.8 408.2,276.4 408.7,277.1 409.2,277.7 409.6,278.8 410.1,280.2 410.6,281.2 411.2,280.7 411.7,282.7 412.3,283.5 412.8,284.3 413.3,286.1 413.7,285.5 414.2,286.2 414.7,288.2 415.1,288.4 415.6,289.2 416.2,288.6 416.7,288.1 417.2,287.6 417.8,287.0 418.3,286.9 418.8,286.9 419.3,286.8 419.8,286.7 420.2,286.7 420.7,286.6 421.2,286.5 421.7,286.5 422.2,286.4 422.7,286.4 423.2,286.3 423.7,286.3 424.2,286.2 424.7,286.2 425.3,286.1 425.8,286.1 426.3,286.0 426.8,286.0 427.3,285.9 427.8,285.9 428.3,285.8 428.8,285.8 429.3,285.7 429.8,285.7 430.3,285.6 430.8,285.6 431.3,285.5 431.8,285.5 432.3,285.4 432.8,285.4 433.3,285.3 433.8,284.9 434.2,284.4 434.7,284.0 435.2,284.7 435.6,283.4 436.1,283.0 436.7,280.3 437.2,279.3 437.8,278.5 438.3,276.8 438.9,276.1 439.4,275.4 439.9,274.1 440.5,272.9 441.1,273.0 441.6,273.0 442.1,272.6 442.7,274.2 443.3,271.1 443.8,269.3 444.4,267.3 444.9,268.8 445.5,270.3 446.0,272.3 446.6,270.8 447.1,270.1 447.6,266.7 448.2,266.0 448.7,264.7 449.1,264.3 449.6,265.4 450.1,266.2 450.5,267.1 451.0,266.4 451.5,266.2 452.0,267.6 452.5,268.0 453.0,268.0 453.5,265.9 454.0,266.5 454.6,266.9 455.1,267.3 455.6,268.7 456.2,269.0 456.8,268.4 457.3,268.6 457.8,267.5 458.4,268.0 458.9,269.7 459.5,271.8 460.1,273.9 460.6,275.3 461.1,275.1 461.6,275.2 462.1,276.0 462.5,278.0 463.0,278.5 463.5,278.5 464.0,278.7 464.5,278.6 465.1,278.8 465.6,280.0 466.2,281.1 466.7,282.3 467.2,282.6 467.6,281.7 468.1,281.0 468.6,279.7 469.0,282.3 469.5,282.1 470.0,282.0 470.4,281.3 470.9,283.9 471.4,283.6 471.8,283.6 472.3,283.9 472.8,283.5 473.4,286.1 473.9,287.4 474.5,288.2 475.0,287.3 475.6,287.3 476.1,288.4 476.6,290.0 477.2,289.6 477.7,289.4 478.1,287.5 478.6,287.0 479.1,286.1 479.5,286.2 480.0,286.9 480.6,284.3 481.1,281.7 481.6,280.0 482.2,277.7 482.7,275.4 483.1,273.9 483.6,272.2 484.1,271.4 484.5,269.6 485.0,268.4 485.5,264.6 486.1,262.5 486.6,260.7 487.2,257.0 487.7,254.4 488.2,253.8 488.6,253.5 489.1,253.7 489.6,250.8 490.0,250.9 490.5,251.0 491.1,248.5 491.6,245.0 492.2,241.3 492.7,240.9 493.3,241.4 493.8,240.1 494.4,240.6 494.9,240.0 495.4,238.7 495.8,237.8 496.3,237.9 496.8,237.3 497.2,237.2 497.7,237.3 498.3,238.5 498.8,238.6 499.4,239.0 499.9,239.8 500.5,241.1 501.1,243.4 501.6,246.0 502.2,246.7 502.7,250.7 503.2,252.8 503.8,254.1 504.3,254.4 504.9,253.8 505.4,253.3 506.0,253.6 506.5,253.7 507.0,253.9 507.4,255.9 507.9,257.4 508.3,257.7 508.8,258.3 509.3,259.9 509.9,259.2 510.4,260.1 511.0,261.7 511.5,262.2 512.0,263.8 512.4,265.6 512.9,264.8 513.4,264.8 513.8,266.9 514.3,269.5 514.8,269.9 515.2,270.7 515.7,271.6 516.2,273.2 516.6,272.9 517.1,275.4 517.6,277.3 518.2,277.8 518.8,279.6 519.3,279.9 519.8,281.7 520.4,283.7 521.0,281.7 521.5,280.8 522.0,280.8 522.5,280.8 523.0,280.8 523.5,280.8 524.0,280.8 524.5,280.8 525.0,280.8 525.5,280.8 526.0,280.8 526.5,280.8 527.0,280.8 527.5,280.8 528.0,280.8 528.5,280.8 529.0,280.8 529.5,280.8 530.0,280.8 530.5,280.8 531.0,280.8 531.5,280.8 532.0,280.8 532.5,280.8 533.0,280.8 533.5,280.8 534.0,280.8 534.5,280.9 535.0,280.9 535.5,280.9 536.0,281.0 536.5,281.1 537.0,281.1 537.5,281.1 538.1,281.2 538.6,281.2 539.1,281.3 539.6,281.4 540.1,281.4 540.6,281.4 541.1,281.5 541.6,281.5 542.1,281.5 542.6,281.6 543.1,281.6 543.6,281.6 544.1,281.6 544.6,281.7 545.1,281.7 545.6,281.7 546.1,281.7 546.6,281.8 547.1,281.8 547.6,281.8 548.1,281.8 548.6,281.8 549.1,281.9 549.6,281.9 550.1,281.9 550.6,281.9 551.1,282.0 551.6,282.0 552.1,282.0 552.6,282.0 553.1,282.0 553.6,282.0 554.0,282.0 554.5,282.0 555.0,282.0 555.5,282.0 556.0,282.0 556.5,282.0 557.0,282.0 557.5,282.0 558.0,282.0 558.4,282.0 558.9,282.0 559.4,282.0 559.9,282.0 560.4,282.8 561.0,280.8 561.5,278.8 562.1,276.9 562.6,273.1 563.2,270.7 563.7,268.2 564.3,266.4 564.8,264.9 565.3,264.3 565.7,265.2 566.2,266.9 566.7,268.2 567.1,268.1 567.6,269.3 568.1,266.3 568.7,265.0 569.2,265.3 569.8,263.5 570.3,266.8 570.9,268.6 571.5,269.6 572.0,271.6 572.5,274.2 573.1,274.9 573.7,277.3 574.2,277.7 574.8,279.3 575.3,281.1 575.9,282.4 576.5,282.0 577.0,280.5 577.5,278.6 578.1,277.3 578.6,275.9 579.2,273.4 579.8,273.2 580.3,272.1 580.8,272.3 581.2,270.1 581.7,269.3 582.2,269.8 582.6,269.6 583.1,269.2 583.6,268.9 584.0,267.5 584.5,266.0 585.0,265.9 585.4,265.6 585.9,264.6 586.5,264.7 587.0,264.9 587.5,264.8 588.1,267.2 588.6,268.2 589.2,269.8 589.8,272.3 590.3,272.0 590.8,273.0 591.2,273.3 591.7,274.6 592.2,276.5 592.6,277.1 593.1,276.3 593.6,276.9 594.2,278.4 594.7,278.6 595.3,280.8 595.8,279.0 596.3,281.3 596.7,281.5 597.2,282.2 597.7,283.7 598.1,284.4 598.6,284.9 599.1,282.8 599.7,282.9 600.2,283.8 600.8,282.9 601.3,282.6 601.8,283.3 602.2,283.7 602.7,283.9 603.1,283.4 603.6,284.7 604.1,281.5 604.7,281.6 605.2,279.1 605.8,277.2 606.3,276.7 606.9,274.6 607.5,272.8 608.0,271.0 608.5,271.2 609.0,271.8 609.4,272.8 609.9,275.2 610.4,276.7 611.0,274.5 611.5,272.6 612.0,271.3 612.6,269.6 613.1,267.8 613.7,265.5 614.2,266.0 614.8,264.9 615.3,265.5 615.7,265.7 616.2,264.9 616.6,265.7 617.1,266.2 617.6,264.1 618.2,262.4 618.7,262.4 619.2,262.9 619.8,265.0 620.4,265.6 620.9,267.2 621.5,268.3 622.0,270.7 622.6,272.9 623.1,273.8 623.7,274.5 624.2,274.4 624.8,275.2 625.3,277.0 625.7,277.0 626.2,276.7 626.7,277.4 627.1,277.9 627.6,276.9 628.1,276.8 628.7,278.2 629.2,279.0 629.8,280.0 630.3,280.0 630.9,279.9 631.4,281.0 632.0,282.3 632.5,283.2 633.0,283.0 633.4,283.5 633.9,284.6 634.4,286.3 634.8,285.7 635.3,287.8 635.8,287.5 636.2,288.0 636.7,289.0 637.2,289.4 637.6,288.9 638.1,289.9 638.6,290.4 639.0,290.2 639.5,291.4 640.0,291.3 640.5,291.9 640.9,292.1 641.4,290.6 641.9,291.6 642.3,291.4 642.8,291.2 643.3,292.5 643.8,294.1 644.2,294.2 644.7,294.4 645.2,294.0 645.6,293.3 646.1,293.5 646.6,294.6 647.1,294.6 647.5,293.2 648.0,294.1 648.5,293.4 648.9,294.4 649.4,294.8 649.9,293.8 650.3,294.2 650.8,294.2 651.3,293.8 651.7,294.3 652.2,294.7 652.7,294.9 653.1,293.0 653.6,292.0 654.1,293.9 654.6,293.6 655.1,292.1 655.6,292.9 656.0,293.2 656.5,293.1 657.0,293.5 657.5,291.6 658.0,291.3 658.5,291.7 659.0,291.4 659.5,291.5 660.0,290.8 660.5,291.1 661.0,290.6 661.6,290.8 662.1,290.4 662.6,289.5 663.1,289.8 663.6,290.8 664.1,290.3" fill="none" stroke="#000000" stroke-width="2.0" stroke-linejoin="round" stroke-linecap="round"/>
<polyline points="75.7,277.1 76.2,277.1 76.7,277.1 77.2,277.1 77.8,277.1 78.3,277.1 78.8,277.1 79.3,277.1 79.8,277.1 80.3,277.1 80.8,277.1 81.3,277.1 81.9,277.1 82.4,277.1 82.9,277.1 83.4,277.1 84.0,275.1 84.5,272.3 85.1,272.3 85.6,268.2 86.2,264.9 86.7,262.3 87.2,261.1 87.8,260.6 88.4,260.5 88.9,257.4 89.5,258.9 90.0,259.1 90.5,259.1 91.1,257.9 91.7,259.4 92.2,263.5 92.8,265.5 93.4,265.8 93.9,267.0 94.5,268.3 95.0,267.6 95.6,266.8 96.2,266.3 96.7,266.0 97.2,265.8 97.8,263.8 98.3,262.8 98.9,262.1 99.4,260.1 100.0,260.4 100.6,261.9 101.1,261.9 101.7,263.8 102.2,263.6 102.8,263.2 103.4,264.4 103.9,263.6 104.5,264.0 105.0,264.4 105.5,265.3 106.1,264.7 106.6,263.4 107.2,261.8 107.7,259.3 108.3,260.3 108.8,261.8 109.4,262.6 110.0,262.6 110.5,261.0 111.1,262.0 111.6,261.1 112.2,264.9 112.7,264.8 113.2,265.7 113.8,267.1 114.4,266.4 114.9,267.9 115.5,268.8 116.0,267.7 116.5,269.4 117.1,270.6 117.6,270.2 118.0,272.4 118.5,273.8 118.9,273.9 119.4,273.5 120.0,276.4 120.5,276.4 121.0,277.7 121.6,279.3 122.1,281.3 122.7,282.3 123.2,283.3 123.8,284.1 124.3,285.9 124.9,286.5 125.5,287.0 126.0,289.1 126.6,289.8 127.1,291.2 127.7,293.4 128.2,291.0 128.8,291.1 129.3,291.3 129.9,290.9 130.4,289.5 130.9,287.9 131.5,287.4 132.1,287.7 132.6,288.4 133.1,286.5 133.7,286.6 134.2,289.3 134.8,288.9 135.3,289.8 135.9,290.3 136.5,287.7 137.0,287.5 137.6,284.3 138.2,282.1 138.7,282.3 139.2,280.7 139.8,276.7 140.4,275.8 140.9,272.8 141.4,271.2 142.0,269.7 142.6,267.4 143.1,265.0 143.6,261.3 144.2,258.1 144.8,256.0 145.3,254.5 145.9,253.5 146.5,251.5 147.0,253.8 147.6,252.4 148.1,256.2 148.7,259.3 149.2,261.5 149.8,259.9 150.3,259.8 150.8,259.3 151.4,257.7 151.8,259.3 152.2,262.2 152.8,261.1 153.3,260.3 153.8,258.8 154.4,257.2 155.0,257.6 155.5,256.2 156.1,253.2 156.7,254.1 157.2,254.8 157.8,257.8 158.3,259.3 158.9,260.2 159.4,259.8 159.9,260.7 160.5,262.6 161.0,263.1 161.4,263.6 161.9,263.2 162.4,262.5 162.8,262.8 163.3,263.7 163.9,265.5 164.4,266.9 164.9,266.1 165.5,266.6 166.1,269.5 166.6,269.7 167.1,269.4 167.7,272.1 168.2,273.2 168.8,273.8 169.3,274.8 169.9,278.0 170.4,278.8 171.0,277.4 171.6,279.4 172.1,279.8 172.6,280.4 173.0,281.6 173.5,282.2 174.0,282.3 174.4,281.6 174.9,280.3 175.4,279.8 175.8,279.9 176.3,280.6 176.8,281.6 177.2,282.9 177.7,283.7 178.2,283.5 178.8,284.2 179.3,283.9 179.9,282.3 180.4,283.7 181.0,285.1 181.6,287.6 182.1,289.8 182.7,291.1 183.2,291.5 183.8,293.5 184.3,294.1 184.9,291.9 185.4,291.8 185.9,290.3 186.5,289.0 187.1,288.3 187.6,284.2 188.1,282.0 188.7,279.6 189.2,277.5 189.8,274.9 190.3,271.5 190.9,271.0 191.5,268.1 192.0,266.2 192.6,263.0 193.0,257.8 193.4,252.6 193.8,256.7 194.2,263.4 194.8,263.3 195.3,263.3 195.9,265.0 196.4,265.5 197.0,265.7 197.6,267.7 198.1,267.8 198.6,269.3 199.0,270.1 199.5,270.4 200.0,270.3 200.4,271.4 200.9,271.0 201.4,269.2 202.0,269.8 202.6,268.0 203.1,266.3 203.7,266.1 204.2,265.2 204.8,264.5 205.3,265.1 205.9,264.1 206.4,262.1 207.0,264.0 207.6,264.7 208.1,263.8 208.6,265.9 209.2,267.5 209.7,267.0 210.3,268.1 210.8,269.2 211.4,268.3 211.9,268.5 212.4,271.7 212.8,270.5 213.3,271.4 213.7,272.4 214.2,275.2 214.8,275.2 215.3,277.6 215.8,280.6 216.4,281.1 216.9,282.4 217.5,284.9 218.1,285.1 218.6,285.3 219.2,285.7 219.7,286.1 220.2,286.3 220.8,286.7 221.4,285.7 221.9,285.4 222.4,285.1 223.0,284.4 223.6,282.9 224.1,281.4 224.6,279.5 225.2,279.9 225.6,280.7 226.0,279.3 226.6,275.7 227.1,273.5 227.7,271.3 228.2,269.4 228.8,268.6 229.3,268.3 229.9,268.1 230.4,268.1 230.9,268.4 231.5,268.6 232.1,271.4 232.6,272.7 233.1,273.1 233.7,274.4 234.3,275.3 234.8,277.2 235.4,277.6 236.0,276.5 236.5,276.0 237.1,276.3 237.7,273.2 238.2,271.6 238.8,270.4 239.3,267.0 239.9,267.1 240.4,265.6 240.9,264.7 241.5,263.1 242.1,260.8 242.6,259.3 243.1,259.2 243.7,255.9 244.3,254.5 244.8,254.6 245.4,251.9 245.9,249.3 246.5,249.9 247.1,250.1 247.6,249.2 248.1,252.4 248.7,255.8 249.2,258.3 249.8,260.3 250.3,264.0 250.9,265.2 251.4,264.5 251.9,267.4 252.5,268.0 253.1,267.1 253.6,264.1 254.2,261.3 254.8,259.2 255.3,257.5 255.9,258.3 256.4,260.5 257.0,262.6 257.5,265.5 258.1,268.8 258.6,271.2 259.2,271.3 259.7,267.5 260.3,267.7 260.9,263.6 261.4,260.4 262.0,257.9 262.5,259.8 263.1,262.1 263.6,264.3 264.2,267.5 264.7,269.9 265.3,272.1 265.9,275.3 266.4,276.7 266.9,273.6 267.5,271.5 268.0,267.6 268.6,266.2 269.1,265.3 269.6,263.9 270.2,261.7 270.8,260.8 271.4,259.0 271.9,261.3 272.5,263.3 273.0,265.6 273.6,268.7 274.1,270.2 274.6,273.6 275.2,276.7 275.8,275.7 276.3,275.0 276.9,274.4 277.4,272.1 278.0,269.3 278.6,267.1 279.1,265.8 279.7,267.6 280.2,270.8 280.8,273.7 281.3,276.9 281.9,278.6 282.4,281.7 283.0,278.7 283.5,274.7 284.1,271.1 284.6,271.4 285.2,271.8 285.7,269.8 286.3,270.6 286.8,274.4 287.4,277.0 287.9,273.0 288.5,272.1 289.1,271.8 289.6,270.9 290.2,267.8 290.7,265.9 291.2,264.3 291.8,262.8 292.4,260.4 292.9,259.5 293.5,261.2 294.0,262.9 294.6,263.4 295.1,263.7 295.5,265.5 296.0,265.9 296.5,265.4 296.9,268.1 297.4,267.9 297.9,268.0 298.5,269.2 299.0,270.4 299.6,271.5 300.1,273.5 300.6,273.6 301.1,274.4 301.5,274.5 302.0,275.3 302.6,276.1 303.1,277.3 303.6,279.5 304.2,279.7 304.8,281.1 305.3,281.6 305.8,284.7 306.4,286.0 306.9,284.3 307.5,282.4 308.1,280.8 308.6,280.0 309.2,279.0 309.7,277.5 310.3,274.5 310.9,275.4 311.4,278.1 311.9,279.4 312.5,280.2 313.1,277.3 313.6,275.7 314.1,273.8 314.7,272.3 315.2,269.1 315.8,265.4 316.3,262.6 316.9,260.1 317.5,258.3 318.0,254.8 318.6,255.1 319.2,249.0 319.7,247.4 320.3,242.4 320.8,245.0 321.4,245.6 321.9,246.9 322.5,249.9 323.0,253.5 323.6,256.8 324.2,258.0 324.7,259.3 325.2,258.7 325.8,261.2 326.4,259.4 326.9,259.6 327.4,258.9 328.0,258.5 328.6,258.2 329.1,257.2 329.6,256.1 330.2,254.8 330.8,257.3 331.3,258.4 331.8,257.8 332.4,259.2 333.0,260.9 333.5,260.5 334.1,262.4 334.7,261.0 335.2,261.6 335.8,262.1 336.3,261.1 336.8,260.2 337.2,258.6 337.7,258.7 338.2,256.8 338.6,255.2 339.1,255.6 339.6,251.7 340.2,249.9 340.7,244.8 341.2,244.1 341.8,240.6 342.4,242.4 342.9,245.3 343.5,248.0 344.0,251.7 344.6,256.1 345.1,259.9 345.7,262.3 346.2,263.1 346.8,264.4 347.4,262.8 347.9,261.2 348.4,259.8 349.0,257.8 349.6,255.4 350.1,253.5 350.6,253.0 351.2,251.1 351.8,252.0 352.3,255.9 352.8,255.7 353.4,257.1 354.0,258.5 354.5,259.6 355.1,261.6 355.7,266.6 356.2,269.2 356.8,272.8 357.4,272.4 357.9,271.9 358.4,271.8 359.0,271.0 359.5,271.1 360.1,273.4 360.6,272.5 361.2,275.8 361.7,276.8 362.2,277.2 362.6,277.9 363.1,279.0 363.6,280.0 364.0,283.2 364.5,285.2 365.1,281.9 365.6,279.4 366.1,278.5 366.7,277.6 367.2,276.2 367.8,277.7 368.3,277.0 368.9,278.5 369.4,277.7 370.0,273.6 370.6,271.9 371.1,270.7 371.7,271.0 372.2,271.1 372.8,270.6 373.3,272.4 373.8,274.5 374.2,274.1 374.7,274.8 375.1,275.6 375.6,277.0 376.2,278.4 376.7,278.7 377.2,281.2 377.8,282.3 378.4,280.5 378.9,278.6 379.4,276.6 380.0,273.9 380.5,276.6 381.1,276.4 381.6,276.2 382.0,273.6 382.4,272.1 382.9,273.1 383.5,272.7 384.1,271.0 384.6,272.4 385.2,272.1 385.7,274.3 386.2,273.6 386.8,273.8 387.3,275.1 387.7,277.0 388.2,278.2 388.6,278.1 389.1,278.0 389.7,278.8 390.2,280.3 390.8,281.1 391.3,281.7 391.9,281.2 392.4,284.8 392.9,287.9 393.5,289.4 394.1,287.9 394.6,286.4 395.1,284.1 395.7,283.8 396.2,283.3 396.8,281.4 397.3,279.1 397.9,277.5 398.4,278.3 399.0,276.8 399.6,279.0 400.1,279.1 400.7,278.5 401.2,277.1 401.8,276.8 402.3,277.1 402.9,275.3 403.4,271.9 403.9,270.1 404.5,269.5 405.0,272.6 405.4,273.4 405.9,273.4 406.3,273.0 406.8,272.7 407.4,274.4 407.9,277.2 408.4,278.1 409.0,279.3 409.6,281.8 410.1,284.1 410.6,285.4 411.2,286.1 411.8,288.4 412.3,290.6 412.8,291.6 413.4,294.0 413.9,293.4 414.5,296.3 415.1,297.3 415.6,298.2 416.1,298.1 416.5,297.7 417.0,297.2 417.5,296.7 418.0,296.2 418.4,295.8 418.9,295.3 419.4,295.0 419.8,294.7 420.3,294.4 420.8,294.0 421.3,293.7 421.7,293.4 422.2,293.1 422.7,292.9 423.2,292.6 423.7,292.4 424.2,292.1 424.7,291.9 425.2,291.6 425.7,291.4 426.2,291.1 426.7,290.9 427.2,290.7 427.7,290.5 428.2,290.3 428.7,290.1 429.1,290.0 429.6,289.8 430.1,289.6 430.6,289.4 431.1,289.2 431.6,288.9 432.1,288.6 432.6,288.4 433.1,288.1 433.5,287.8 434.0,287.6 434.5,287.3 435.0,287.0 435.5,285.6 436.1,284.3 436.6,282.2 437.2,280.2 437.7,279.0 438.2,277.0 438.8,274.7 439.3,273.5 439.7,272.3 440.2,270.0 440.6,267.7 441.1,265.6 441.6,263.8 442.2,261.1 442.7,261.1 443.3,258.2 443.8,257.5 444.4,255.7 444.9,257.2 445.5,258.1 446.1,260.0 446.6,262.1 447.1,260.3 447.7,257.8 448.2,256.7 448.7,255.7 449.1,256.0 449.6,257.3 450.0,259.7 450.5,260.4 451.1,259.1 451.6,259.3 452.1,259.4 452.7,259.6 453.2,258.8 453.8,259.6 454.3,260.6 454.9,260.7 455.3,258.3 455.7,255.6 456.2,259.3 456.8,261.8 457.4,262.9 457.9,263.7 458.4,264.5 459.0,265.6 459.6,268.1 460.1,270.9 460.6,273.2 461.2,272.8 461.7,274.1 462.1,276.1 462.6,278.8 463.1,279.2 463.5,280.5 464.0,281.4 464.6,280.2 465.1,280.3 465.6,281.0 466.2,281.8 466.8,284.2 467.3,284.8 467.8,284.5 468.4,284.4 468.9,285.8 469.5,287.6 470.1,286.6 470.6,287.1 471.1,288.0 471.5,287.0 472.0,286.4 472.5,285.9 472.9,285.5 473.4,287.8 473.9,289.0 474.5,291.0 475.1,290.4 475.6,290.7 476.1,293.3 476.7,295.3 477.2,296.6 477.8,295.3 478.3,293.4 478.8,291.4 479.4,290.4 479.9,290.3 480.3,288.6 480.8,285.9 481.2,282.7 481.7,281.9 482.2,278.5 482.8,274.8 483.3,272.5 483.9,270.7 484.4,268.8 485.0,267.1 485.6,263.5 486.1,261.7 486.7,259.5 487.2,255.4 487.8,252.4 488.3,249.4 488.9,250.0 489.4,247.2 489.9,245.9 490.5,245.4 491.1,243.4 491.6,240.5 492.2,236.7 492.8,236.2 493.3,236.6 493.8,234.7 494.4,235.1 494.9,233.9 495.5,231.7 496.1,231.2 496.6,231.2 497.1,230.6 497.7,229.8 498.2,229.7 498.8,231.9 499.3,234.0 499.9,236.4 500.5,237.3 501.0,239.9 501.6,242.5 502.1,245.3 502.7,250.9 503.2,255.3 503.8,254.6 504.3,256.0 504.8,257.0 505.4,257.6 505.9,258.4 506.3,258.7 506.8,258.8 507.3,259.7 507.7,260.4 508.2,259.9 508.8,260.1 509.3,262.3 509.8,261.9 510.4,264.2 510.9,265.9 511.5,267.4 512.0,269.2 512.6,270.3 513.1,270.0 513.7,272.5 514.2,276.1 514.8,277.6 515.3,278.7 515.7,281.4 516.2,283.1 516.6,284.0 517.1,286.1 517.6,288.9 518.2,290.5 518.7,293.0 519.3,294.2 519.8,296.3 520.3,297.1 520.7,295.8 521.2,294.6 521.7,294.1 522.1,293.6 522.6,293.0 523.1,292.7 523.6,292.4 524.1,292.1 524.6,291.8 525.0,291.4 525.5,291.1 526.0,290.8 526.5,290.5 527.0,290.2 527.5,290.0 528.0,289.7 528.5,289.5 529.0,289.2 529.4,289.0 529.9,288.7 530.4,288.5 530.9,288.2 531.4,288.0 531.9,287.9 532.4,287.8 532.9,287.6 533.5,287.5 534.0,287.4 534.5,287.2 535.0,287.1 535.5,287.0 536.0,286.8 536.5,286.7 537.0,286.5 537.5,286.4 538.0,286.2 538.6,286.1 539.1,285.9 539.6,285.8 540.1,285.6 540.6,285.5 541.1,285.3 541.6,285.2 542.1,285.1 542.6,284.9 543.1,284.8 543.6,284.7 544.1,284.6 544.6,284.5 545.1,284.4 545.6,284.2 546.1,284.1 546.6,284.0 547.1,283.9 547.6,283.8 548.1,283.8 548.6,283.7 549.1,283.6 549.6,283.5 550.1,283.4 550.6,283.3 551.1,283.3 551.6,283.2 552.1,283.1 552.6,283.1 553.1,283.0 553.6,283.0 554.2,283.0 554.7,282.9 555.2,282.9 555.7,282.9 556.2,282.8 556.7,282.8 557.2,282.7 557.8,282.7 558.3,282.7 558.8,282.6 559.3,282.6 559.9,281.9 560.4,283.1 561.0,281.5 561.5,276.3 562.1,274.2 562.6,270.3 563.2,267.0 563.7,263.8 564.3,260.8 564.9,259.4 565.4,257.8 566.0,257.8 566.5,259.3 567.1,259.3 567.7,260.0 568.2,258.7 568.8,257.0 569.3,255.9 569.9,254.7 570.4,254.8 570.9,257.9 571.5,260.2 572.0,264.0 572.6,266.8 573.1,269.5 573.7,272.7 574.2,273.5 574.8,274.4 575.4,277.4 575.9,278.8 576.5,279.2 577.0,278.6 577.6,277.1 578.1,277.1 578.7,275.2 579.2,273.9 579.8,274.1 580.3,272.3 580.9,270.3 581.4,265.6 581.9,266.0 582.3,266.0 582.8,265.6 583.3,265.4 583.7,265.2 584.2,262.6 584.8,262.3 585.3,261.6 585.9,260.4 586.4,258.8 587.0,259.0 587.5,259.4 588.0,263.1 588.6,263.5 589.2,265.8 589.7,268.3 590.3,268.7 590.8,269.9 591.4,271.9 592.0,274.6 592.5,276.6 593.0,276.8 593.6,278.3 594.2,280.5 594.7,281.4 595.2,284.6 595.8,284.5 596.4,288.9 596.9,289.9 597.5,290.5 598.0,289.9 598.5,289.2 599.1,287.0 599.6,287.4 600.2,289.0 600.8,289.6 601.3,289.9 601.8,290.4 602.2,290.1 602.7,289.6 603.1,288.6 603.6,288.3 604.1,285.2 604.7,285.7 605.2,282.3 605.8,279.7 606.3,276.5 606.9,273.1 607.3,270.2 607.8,267.3 608.2,264.9 608.8,264.6 609.3,264.0 609.9,263.9 610.4,264.5 611.0,263.2 611.5,262.8 612.0,261.1 612.6,260.2 613.1,259.2 613.7,257.2 614.2,257.6 614.8,257.2 615.3,257.4 615.7,257.7 616.2,256.6 616.6,257.9 617.1,258.6 617.6,256.4 618.2,254.4 618.7,254.3 619.2,255.2 619.8,257.2 620.4,258.7 620.9,260.5 621.5,262.5 622.0,265.7 622.6,268.6 623.2,270.2 623.7,270.9 624.3,271.3 624.8,273.1 625.4,275.7 625.9,276.8 626.5,277.5 627.0,279.4 627.5,279.3 628.1,280.0 628.6,281.5 629.2,281.8 629.8,282.8 630.3,283.1 630.8,283.5 631.4,284.6 632.0,286.0 632.5,287.6 633.0,287.5 633.4,288.2 633.9,289.5 634.3,291.2 634.8,290.1 635.3,293.1 635.9,292.9 636.5,294.1 637.0,296.0 637.5,295.2 638.1,294.8 638.7,294.9 639.2,294.8 639.7,296.1 640.1,296.9 640.6,297.5 641.1,296.4 641.5,296.4 642.0,297.2 642.5,296.1 643.1,297.5 643.6,298.3 644.2,299.1 644.7,299.7 645.2,298.8 645.6,298.3 646.1,298.6 646.6,299.0 647.1,298.4 647.5,297.7 648.0,297.7 648.5,296.6 649.1,299.1 649.7,297.6 650.2,297.8 650.7,297.5 651.1,296.3 651.6,296.3 652.0,296.7 652.5,296.9 653.0,295.9 653.4,293.8 653.9,295.2 654.4,295.6 654.9,294.4 655.3,293.1 655.8,294.1 656.3,294.5 656.8,294.3 657.3,293.6 657.8,291.7 658.2,292.0 658.7,292.5 659.2,292.2 659.7,291.5 660.2,291.2 660.7,291.0 661.2,290.5 661.7,291.0 662.2,290.6 662.6,289.8 663.1,289.9 663.6,290.8 664.1,290.3" fill="none" stroke="#0000e6" stroke-width="2.2" stroke-linejoin="round" stroke-linecap="round"/>
<polyline points="75.7,277.3 76.2,277.3 76.7,277.3 77.2,277.3 77.8,277.3 78.3,277.3 78.8,277.3 79.3,277.3 79.8,277.3 80.3,277.3 80.8,277.3 81.3,277.3 81.9,277.3 82.4,277.3 82.9,277.3 83.4,277.3 84.0,275.4 84.5,272.6 85.0,272.6 85.6,270.0 86.1,268.5 86.7,267.4 87.2,266.6 87.8,266.0 88.3,267.0 88.9,265.7 89.5,266.5 90.0,266.6 90.5,267.7 90.9,267.7 91.4,267.7 91.8,268.2 92.3,270.4 92.8,272.6 93.4,273.1 94.0,274.0 94.5,275.5 95.0,274.4 95.6,274.1 96.2,272.8 96.7,272.6 97.2,272.8 97.8,271.7 98.4,271.0 98.9,270.1 99.4,269.3 99.8,269.9 100.3,272.1 100.8,271.2 101.2,270.8 101.7,270.9 102.2,271.3 102.8,270.8 103.3,271.9 103.9,271.9 104.4,271.6 104.9,271.0 105.3,270.7 105.8,269.5 106.3,268.4 106.7,269.3 107.2,268.8 107.8,267.6 108.3,267.4 108.9,267.0 109.4,266.4 110.0,267.0 110.5,266.9 111.1,268.1 111.6,266.8 112.2,270.3 112.8,268.9 113.3,270.5 113.8,270.6 114.4,269.5 114.9,270.8 115.5,270.5 116.0,269.6 116.5,271.1 117.0,272.5 117.5,272.0 117.9,273.9 118.4,275.5 118.9,275.3 119.4,274.1 119.9,276.4 120.3,277.4 120.8,277.5 121.3,279.0 121.8,280.4 122.2,281.6 122.7,282.4 123.2,282.7 123.8,282.9 124.3,284.0 124.9,284.4 125.4,283.3 125.9,284.8 126.3,284.2 126.8,284.0 127.3,284.5 127.7,285.4 128.2,284.4 128.8,285.4 129.3,286.7 129.8,286.2 130.4,284.9 130.9,283.4 131.5,283.7 132.1,283.5 132.6,283.7 133.1,283.4 133.5,283.4 134.0,284.9 134.5,286.2 134.9,284.2 135.4,286.0 135.9,283.9 136.5,282.9 137.1,283.0 137.6,280.9 138.2,279.4 138.7,280.3 139.2,279.5 139.8,276.6 140.4,276.2 140.9,272.9 141.4,272.3 142.0,270.8 142.6,268.7 143.1,266.7 143.6,264.0 144.2,261.7 144.7,260.7 145.1,260.9 145.6,262.9 146.0,262.7 146.5,261.9 147.1,265.1 147.6,263.8 148.1,265.9 148.7,266.2 149.2,266.2 149.8,264.8 150.3,265.1 150.9,266.2 151.4,265.5 151.8,265.4 152.2,266.2 152.8,265.6 153.3,265.0 153.8,263.7 154.4,262.0 154.9,262.4 155.5,261.4 156.1,258.8 156.6,257.7 157.2,258.1 157.7,260.0 158.2,261.2 158.8,262.3 159.3,261.4 159.7,261.3 160.2,262.7 160.6,264.0 161.1,264.7 161.6,264.5 162.2,263.7 162.7,262.9 163.3,265.1 163.8,265.7 164.3,266.5 164.7,266.6 165.2,267.0 165.7,267.7 166.1,269.9 166.6,268.6 167.1,268.4 167.5,269.5 168.0,271.2 168.5,271.5 168.9,271.7 169.4,273.4 169.9,275.2 170.5,275.5 171.0,274.5 171.6,275.7 172.1,275.4 172.7,276.8 173.2,277.2 173.8,277.4 174.3,276.7 174.8,276.3 175.2,275.4 175.7,276.0 176.2,276.8 176.6,277.8 177.1,278.5 177.6,279.2 178.0,279.1 178.5,279.4 179.0,280.0 179.4,278.6 179.9,278.2 180.4,279.0 181.0,280.1 181.6,282.3 182.1,284.0 182.7,284.0 183.2,284.6 183.8,285.1 184.3,285.9 184.9,284.2 185.4,284.2 185.9,283.3 186.5,282.4 187.1,283.0 187.6,279.9 188.1,278.5 188.7,277.2 189.2,276.0 189.8,274.7 190.3,273.0 190.9,273.1 191.4,272.0 192.0,270.4 192.6,268.5 193.1,265.8 193.6,265.6 194.0,267.0 194.5,269.0 194.9,267.7 195.4,267.5 195.9,269.2 196.5,269.4 197.0,269.3 197.6,270.9 198.1,269.8 198.6,271.0 199.0,271.9 199.5,272.3 200.0,272.8 200.4,273.4 200.9,272.2 201.4,271.0 202.0,270.6 202.6,269.7 203.1,267.0 203.6,267.6 204.0,268.0 204.5,266.7 205.0,267.4 205.4,267.1 205.9,266.8 206.4,265.8 207.0,267.0 207.5,267.7 208.1,265.8 208.6,267.2 209.1,267.7 209.5,267.5 210.0,268.4 210.5,270.0 211.0,269.3 211.4,269.2 211.9,270.1 212.4,272.6 212.8,271.5 213.3,271.9 213.8,273.2 214.2,275.5 214.7,274.9 215.2,275.7 215.6,278.0 216.1,279.2 216.6,278.4 217.0,280.8 217.5,282.4 218.0,282.4 218.6,281.6 219.1,282.2 219.7,282.7 220.2,283.0 220.7,281.9 221.1,282.0 221.6,281.6 222.0,281.3 222.5,281.5 223.0,279.6 223.6,278.8 224.1,277.5 224.7,276.1 225.2,276.0 225.7,276.3 226.2,273.8 226.7,272.4 227.2,272.3 227.7,271.0 228.2,269.4 228.8,269.4 229.3,268.8 229.9,269.0 230.4,268.9 230.9,268.9 231.5,269.0 232.1,271.5 232.6,272.9 233.1,273.6 233.7,273.7 234.3,275.0 234.8,276.1 235.4,276.8 236.0,275.5 236.5,275.8 237.1,275.5 237.7,273.0 238.2,271.5 238.8,270.6 239.3,267.5 239.9,267.1 240.4,265.5 240.9,264.9 241.5,263.6 242.1,261.4 242.6,260.0 243.1,259.9 243.7,257.2 244.3,255.9 244.8,256.4 245.4,253.3 245.9,252.6 246.5,253.5 247.1,253.8 247.6,253.6 248.1,254.1 248.7,255.9 249.2,258.1 249.8,260.1 250.3,263.9 250.9,264.8 251.4,263.5 251.9,267.0 252.5,267.5 253.1,267.0 253.6,263.3 254.2,261.2 254.8,259.9 255.3,257.5 255.9,259.1 256.4,260.5 257.0,262.2 257.5,264.5 258.1,268.1 258.6,270.0 259.2,270.3 259.7,267.2 260.3,267.3 260.9,263.8 261.4,260.7 262.0,258.7 262.5,260.7 263.1,262.0 263.6,264.6 264.2,266.5 264.7,268.7 265.3,270.7 265.9,273.8 266.4,275.2 266.9,272.7 267.5,271.0 268.0,268.1 268.6,266.1 269.1,265.6 269.6,263.7 270.2,262.4 270.8,261.2 271.4,260.0 271.9,261.8 272.5,264.0 273.0,266.1 273.6,268.5 274.1,270.1 274.6,273.3 275.2,275.6 275.8,275.2 276.3,274.3 276.9,273.6 277.4,271.5 278.0,269.5 278.6,267.9 279.1,265.9 279.7,267.2 280.2,270.1 280.8,273.1 281.3,275.5 281.9,276.9 282.4,279.6 283.0,276.6 283.5,274.0 284.1,271.0 284.6,271.1 285.2,271.3 285.7,269.9 286.3,270.2 286.8,273.2 287.4,275.7 287.9,272.0 288.5,271.8 289.1,271.5 289.6,270.6 290.2,267.8 290.7,265.6 291.2,264.8 291.8,263.6 292.4,263.5 292.9,264.2 293.5,264.1 294.0,265.6 294.6,264.5 295.1,265.0 295.5,266.3 296.0,266.5 296.5,265.6 296.9,268.2 297.4,267.7 297.9,267.7 298.5,268.8 299.0,269.9 299.6,271.2 300.1,273.7 300.6,273.4 301.1,274.6 301.5,274.4 302.0,274.8 302.5,275.5 302.9,275.4 303.4,276.7 303.9,277.4 304.3,277.3 304.8,276.8 305.4,276.4 305.9,278.7 306.4,277.4 307.0,277.2 307.5,276.0 308.1,275.4 308.6,274.9 309.2,273.9 309.7,273.4 310.2,272.4 310.6,273.6 311.1,275.2 311.5,277.0 312.0,277.9 312.5,276.9 313.1,274.3 313.6,272.2 314.2,271.3 314.7,270.5 315.2,268.8 315.6,266.6 316.1,264.5 316.6,263.9 317.0,262.3 317.5,261.3 318.1,257.8 318.6,257.9 319.1,253.6 319.7,253.4 320.3,251.9 320.8,250.7 321.4,249.3 321.9,251.1 322.5,252.6 323.1,255.3 323.6,258.2 324.1,258.6 324.7,260.2 325.2,260.6 325.8,262.6 326.3,262.9 326.8,262.8 327.2,262.5 327.7,260.8 328.2,261.2 328.6,259.0 329.1,258.7 329.6,258.0 330.0,256.8 330.5,258.1 331.0,259.3 331.4,259.0 331.9,258.1 332.4,259.0 333.0,260.2 333.6,259.1 334.1,260.8 334.6,260.2 335.0,260.1 335.5,261.2 336.0,261.0 336.5,259.9 336.9,259.0 337.4,258.5 337.9,256.7 338.3,254.3 338.8,253.6 339.3,252.1 339.7,251.7 340.2,251.3 340.7,247.1 341.3,245.1 341.8,242.0 342.4,243.2 342.9,245.8 343.4,248.4 344.0,251.3 344.6,253.5 345.1,254.7 345.6,257.9 346.2,258.3 346.7,257.5 347.1,257.2 347.6,256.5 348.1,255.8 348.5,256.4 349.0,255.5 349.6,252.7 350.1,251.3 350.6,250.8 351.2,249.5 351.7,249.3 352.1,252.1 352.6,252.8 353.1,252.8 353.5,253.6 354.0,254.7 354.5,255.7 354.9,257.0 355.4,259.2 355.9,260.8 356.4,261.6 356.8,262.5 357.3,263.9 357.9,263.6 358.4,263.8 358.9,262.9 359.5,261.6 360.0,264.9 360.4,264.3 360.9,265.7 361.4,268.3 361.8,269.2 362.3,268.8 362.8,269.4 363.4,270.6 363.9,272.1 364.5,274.0 365.0,274.0 365.5,272.2 366.0,271.6 366.5,272.2 366.9,270.3 367.4,269.1 367.9,268.8 368.4,266.9 368.9,267.3 369.5,267.9 370.0,265.6 370.6,265.5 371.1,266.5 371.6,266.6 372.0,266.2 372.5,265.4 373.0,266.3 373.4,268.0 373.9,269.2 374.4,268.2 374.8,268.9 375.3,269.8 375.8,271.3 376.3,271.5 376.7,271.1 377.2,272.9 377.7,272.7 378.1,271.8 378.6,270.7 379.1,269.7 379.5,268.3 380.0,267.3 380.5,268.9 381.0,268.2 381.4,267.2 381.9,267.1 382.4,268.1 382.9,269.5 383.5,269.2 384.1,268.2 384.6,270.3 385.2,269.6 385.7,272.1 386.2,271.1 386.8,271.9 387.3,272.4 387.8,273.6 388.3,274.2 388.7,273.9 389.2,273.7 389.7,274.7 390.2,275.7 390.7,277.1 391.3,278.1 391.8,277.4 392.4,279.8 392.9,281.6 393.4,280.5 394.0,279.7 394.6,278.3 395.1,276.9 395.6,276.8 396.0,278.4 396.5,277.1 397.0,276.4 397.4,275.4 397.9,275.6 398.4,275.8 398.8,274.3 399.3,274.6 399.8,275.6 400.3,275.1 400.7,275.4 401.2,275.0 401.7,274.4 402.1,274.4 402.6,274.3 403.1,271.9 403.6,270.1 404.0,268.9 404.5,269.4 405.0,271.0 405.4,271.9 405.9,272.5 406.4,272.3 406.8,272.4 407.3,273.3 407.8,274.5 408.2,275.7 408.7,276.5 409.2,277.9 409.6,279.3 410.1,280.7 410.6,280.5 411.2,281.2 411.7,282.2 412.3,283.8 412.8,284.0 413.3,285.7 413.7,285.4 414.2,286.0 414.7,288.0 415.1,288.5 415.6,289.1 416.2,288.4 416.7,288.0 417.2,287.5 417.8,287.0 418.3,286.9 418.8,286.8 419.3,286.8 419.8,286.7 420.2,286.6 420.7,286.5 421.2,286.5 421.7,286.4 422.2,286.3 422.7,286.3 423.2,286.2 423.7,286.2 424.2,286.1 424.7,286.0 425.3,286.0 425.8,285.9 426.3,285.9 426.8,285.8 427.3,285.8 427.8,285.7 428.3,285.7 428.8,285.6 429.3,285.6 429.8,285.5 430.3,285.5 430.8,285.4 431.3,285.4 431.8,285.3 432.3,285.3 432.8,285.3 433.3,285.2 433.8,284.8 434.2,284.3 434.7,283.9 435.2,284.5 435.6,282.9 436.1,282.2 436.7,280.6 437.2,278.9 437.8,278.6 438.3,277.3 438.9,275.6 439.4,275.3 439.9,274.6 440.5,272.6 441.1,272.2 441.6,272.6 442.1,272.4 442.7,274.2 443.3,271.1 443.8,269.4 444.4,266.8 444.9,268.6 445.5,270.4 446.0,272.1 446.6,271.2 447.1,269.7 447.6,266.6 448.2,266.4 448.7,264.6 449.1,264.0 449.6,265.0 450.1,266.3 450.5,267.7 451.0,266.5 451.5,266.4 452.0,267.9 452.5,268.1 453.0,267.9 453.5,265.9 454.0,266.6 454.6,266.8 455.1,267.3 455.6,269.0 456.2,269.3 456.8,268.1 457.3,268.9 457.8,267.6 458.4,268.2 458.9,269.8 459.5,272.0 460.1,273.9 460.6,276.0 461.1,275.8 461.6,275.2 462.1,276.3 462.5,278.7 463.0,278.9 463.5,278.8 464.0,279.3 464.5,278.7 465.1,278.9 465.6,279.7 466.2,280.6 466.7,282.6 467.2,282.4 467.6,281.7 468.1,281.0 468.6,279.8 469.0,282.3 469.5,282.0 470.0,281.8 470.4,281.3 470.9,283.7 471.4,284.0 471.8,284.0 472.3,284.4 472.8,284.1 473.4,286.6 473.9,287.9 474.5,288.6 475.0,287.7 475.6,286.9 476.1,287.9 476.6,289.8 477.2,289.4 477.7,288.5 478.1,287.9 478.6,286.9 479.1,286.6 479.5,286.2 480.0,286.9 480.6,284.0 481.1,281.8 481.6,280.4 482.2,278.0 482.7,275.7 483.1,274.2 483.6,272.4 484.1,271.2 484.5,270.3 485.0,268.0 485.5,265.1 486.1,262.8 486.6,261.3 487.2,257.2 487.7,254.2 488.2,253.6 488.6,253.7 489.1,254.0 489.6,251.6 490.0,251.0 490.5,251.0 491.1,248.6 491.6,245.6 492.2,240.8 492.7,240.5 493.3,241.3 493.8,240.2 494.4,240.2 494.9,239.4 495.4,238.5 495.8,237.8 496.3,237.5 496.8,237.1 497.2,237.0 497.7,236.8 498.3,238.5 498.8,238.8 499.4,238.4 499.9,240.4 500.5,241.0 501.1,243.4 501.6,246.1 502.2,246.6 502.7,251.1 503.2,253.7 503.8,254.2 504.3,254.1 504.9,254.5 505.4,253.6 506.0,253.7 506.5,253.8 507.0,253.8 507.4,256.3 507.9,257.1 508.3,257.7 508.8,257.9 509.3,259.7 509.9,259.0 510.4,260.5 511.0,261.8 511.5,263.0 512.0,264.0 512.4,265.3 512.9,264.3 513.4,264.9 513.8,266.8 514.3,269.2 514.8,269.9 515.2,270.3 515.7,271.7 516.2,273.5 516.6,273.2 517.1,274.9 517.6,277.2 518.2,277.7 518.8,279.5 519.3,279.6 519.8,281.2 520.4,283.5 521.0,281.5 521.5,280.6 522.0,280.6 522.5,280.6 523.0,280.7 523.5,280.7 524.0,280.8 524.5,280.8 525.0,280.8 525.5,280.9 526.0,280.9 526.5,281.0 527.0,281.0 527.5,281.0 528.0,281.0 528.5,280.9 529.0,280.9 529.5,280.9 530.0,280.9 530.5,280.8 531.0,280.8 531.5,280.8 532.0,280.8 532.5,280.7 533.0,280.7 533.5,280.7 534.0,280.7 534.5,280.7 535.0,280.8 535.5,280.8 536.0,280.9 536.5,280.9 537.0,281.0 537.5,281.0 538.1,281.1 538.6,281.2 539.1,281.2 539.6,281.3 540.1,281.3 540.6,281.4 541.1,281.4 541.6,281.4 542.1,281.5 542.6,281.5 543.1,281.5 543.6,281.6 544.1,281.6 544.6,281.6 545.1,281.6 545.6,281.7 546.1,281.7 546.6,281.7 547.1,281.8 547.6,281.8 548.1,281.8 548.6,281.8 549.1,281.9 549.6,281.9 550.1,281.9 550.6,282.0 551.1,282.0 551.6,282.0 552.1,282.0 552.6,282.1 553.1,282.1 553.6,282.1 554.0,282.1 554.5,282.1 555.0,282.1 555.5,282.1 556.0,282.1 556.5,282.1 557.0,282.1 557.5,282.1 558.0,282.1 558.4,282.1 558.9,282.1 559.4,282.1 559.9,282.1 560.4,282.3 561.0,280.7 561.5,278.6 562.1,276.9 562.6,273.0 563.2,270.3 563.7,268.2 564.3,266.9 564.8,264.4 565.3,264.1 565.7,265.5 566.2,267.0 566.7,268.1 567.1,268.4 567.6,268.8 568.1,266.1 568.7,265.2 569.2,264.8 569.8,263.4 570.3,267.0 570.9,268.8 571.5,269.4 572.0,271.5 572.5,274.0 573.1,275.0 573.7,277.9 574.2,278.1 574.8,279.0 575.3,281.2 575.9,282.4 576.5,281.6 577.0,280.5 577.5,278.6 578.1,277.6 578.6,275.8 579.2,273.8 579.8,273.2 580.3,271.9 580.8,271.9 581.2,270.1 581.7,269.2 582.2,269.4 582.6,269.1 583.1,269.4 583.6,268.8 584.0,267.2 584.5,266.0 585.0,266.3 585.4,265.5 585.9,264.8 586.5,265.1 587.0,264.7 587.5,264.7 588.1,266.7 588.6,268.4 589.2,269.6 589.8,272.6 590.3,272.3 590.8,273.1 591.2,273.4 591.7,274.4 592.2,276.9 592.6,277.4 593.1,277.1 593.6,277.0 594.2,278.5 594.7,278.9 595.3,280.6 595.8,278.8 596.3,281.0 596.7,281.6 597.2,281.9 597.7,284.0 598.1,284.7 598.6,284.7 599.1,283.3 599.7,282.7 600.2,283.4 600.8,282.8 601.3,282.6 601.8,283.3 602.2,283.9 602.7,283.9 603.1,284.3 603.6,284.3 604.1,282.0 604.7,282.1 605.2,279.2 605.8,277.3 606.3,276.7 606.9,274.4 607.5,272.7 608.0,270.7 608.5,271.2 609.0,271.9 609.4,273.3 609.9,274.5 610.4,276.2 611.0,274.4 611.5,272.9 612.0,271.0 612.6,269.8 613.1,267.7 613.7,265.9 614.2,266.1 614.8,264.9 615.3,265.6 615.7,265.3 616.2,265.1 616.6,265.7 617.1,266.3 617.6,264.7 618.2,262.8 618.7,262.7 619.2,263.2 619.8,264.8 620.4,265.4 620.9,267.5 621.5,269.0 622.0,270.7 622.6,272.6 623.1,273.6 623.7,274.2 624.2,274.2 624.8,274.9 625.3,276.4 625.7,276.3 626.2,276.7 626.7,276.9 627.1,277.2 627.6,276.5 628.1,276.7 628.7,278.4 629.2,279.2 629.8,279.8 630.3,279.8 630.9,280.2 631.4,280.5 632.0,282.0 632.5,282.6 633.0,283.1 633.4,283.1 633.9,285.1 634.4,285.9 634.8,285.6 635.3,287.7 635.8,288.0 636.2,287.7 636.7,289.0 637.2,289.6 637.6,289.0 638.1,289.4 638.6,290.3 639.0,289.9 639.5,291.0 640.0,291.6 640.5,292.1 640.9,292.0 641.4,291.2 641.9,292.1 642.3,291.7 642.8,291.2 643.3,292.1 643.8,293.7 644.2,293.7 644.7,293.8 645.2,293.6 645.6,293.3 646.1,294.0 646.6,294.1 647.1,293.9 647.5,293.6 648.0,293.6 648.5,293.5 648.9,294.2 649.4,294.4 649.9,293.1 650.3,294.2 650.8,294.4 651.3,293.9 651.7,294.2 652.2,295.1 652.7,294.7 653.1,293.2 653.6,291.9 654.1,293.6 654.6,293.3 655.1,292.2 655.6,292.5 656.0,293.3 656.5,293.0 657.0,293.3 657.5,291.5 658.0,291.4 658.5,291.8 659.0,292.2 659.5,291.2 660.0,290.7 660.5,291.0 661.0,290.8 661.6,290.9 662.1,290.8 662.6,289.5 663.1,289.9 663.6,290.6 664.1,290.4" fill="none" stroke="#8a0000" stroke-width="1.2" stroke-linejoin="round" stroke-linecap="round"/>
<text transform="translate(71.50,320.20) scale(1.4500,1)" text-anchor="end" font-size="16" font-weight="normal" fill="#000" font-family='"Liberation Sans", sans-serif' >-5</text>
<text transform="translate(71.50,291.72) scale(1.4500,1)" text-anchor="end" font-size="16" font-weight="normal" fill="#000" font-family='"Liberation Sans", sans-serif' >0</text>
<text transform="translate(71.50,263.25) scale(1.4500,1)" text-anchor="end" font-size="16" font-weight="normal" fill="#000" font-family='"Liberation Sans", sans-serif' >5</text>
<text transform="translate(71.50,234.78) scale(1.4500,1)" text-anchor="end" font-size="16" font-weight="normal" fill="#000" font-family='"Liberation Sans", sans-serif' >10</text>
<text transform="translate(71.50,206.30) scale(1.4500,1)" text-anchor="end" font-size="16" font-weight="normal" fill="#000" font-family='"Liberation Sans", sans-serif' >15</text>
<text transform="translate(76.00,332.40) scale(1.4500,1)" text-anchor="middle" font-size="16" font-weight="normal" fill="#000" font-family='"Liberation Sans", sans-serif' >0</text>
<text transform="translate(153.90,332.40) scale(1.4500,1)" text-anchor="middle" font-size="16" font-weight="normal" fill="#000" font-family='"Liberation Sans", sans-serif' >50</text>
<text transform="translate(232.00,332.40) scale(1.4500,1)" text-anchor="middle" font-size="16" font-weight="normal" fill="#000" font-family='"Liberation Sans", sans-serif' >100</text>
<text transform="translate(310.10,332.40) scale(1.4500,1)" text-anchor="middle" font-size="16" font-weight="normal" fill="#000" font-family='"Liberation Sans", sans-serif' >150</text>
<text transform="translate(388.20,332.40) scale(1.4500,1)" text-anchor="middle" font-size="16" font-weight="normal" fill="#000" font-family='"Liberation Sans", sans-serif' >200</text>
<text transform="translate(466.30,332.40) scale(1.4500,1)" text-anchor="middle" font-size="16" font-weight="normal" fill="#000" font-family='"Liberation Sans", sans-serif' >250</text>
<text transform="translate(544.40,332.40) scale(1.4500,1)" text-anchor="middle" font-size="16" font-weight="normal" fill="#000" font-family='"Liberation Sans", sans-serif' >300</text>
<text transform="translate(622.50,332.40) scale(1.4500,1)" text-anchor="middle" font-size="16" font-weight="normal" fill="#000" font-family='"Liberation Sans", sans-serif' >350</text>
<text transform="translate(700.60,332.40) scale(1.4500,1)" text-anchor="middle" font-size="16" font-weight="normal" fill="#000" font-family='"Liberation Sans", sans-serif' >400</text>
<line x1="67.60" y1="438.00" x2="67.60" y2="572.40" stroke="#808080" stroke-width="1.3"/>
<line x1="67.60" y1="572.40" x2="698.50" y2="572.40" stroke="#808080" stroke-width="1.3"/>
<line x1="698.50" y1="438.00" x2="698.50" y2="572.40" stroke="#a0a0a0" stroke-width="1.0"/>
<line x1="67.60" y1="438.00" x2="698.50" y2="438.00" stroke="#a0a0a0" stroke-width="1.0"/>
<line x1="67.60" y1="505.20" x2="698.50" y2="505.20" stroke="#7a7a7a" stroke-width="1.3" stroke-dasharray="6.9,6.82"/>
<line x1="67.60" y1="438.00" x2="698.50" y2="438.00" stroke="#555555" stroke-width="1.3" stroke-dasharray="6.9,6.82"/>
<line x1="145.65" y1="572.40" x2="145.65" y2="438.00" stroke="#8a8a8a" stroke-width="1.0" stroke-dasharray="6.9,6.82"/>
<line x1="224.60" y1="572.40" x2="224.60" y2="438.00" stroke="#8a8a8a" stroke-width="1.0" stroke-dasharray="6.9,6.82"/>
<line x1="303.55" y1="572.40" x2="303.55" y2="438.00" stroke="#8a8a8a" stroke-width="1.0" stroke-dasharray="6.9,6.82"/>
<line x1="382.50" y1="572.40" x2="382.50" y2="438.00" stroke="#8a8a8a" stroke-width="1.0" stroke-dasharray="6.9,6.82"/>
<line x1="461.45" y1="572.40" x2="461.45" y2="438.00" stroke="#8a8a8a" stroke-width="1.0" stroke-dasharray="6.9,6.82"/>
<line x1="540.40" y1="572.40" x2="540.40" y2="438.00" stroke="#8a8a8a" stroke-width="1.0" stroke-dasharray="6.9,6.82"/>
<line x1="619.35" y1="572.40" x2="619.35" y2="438.00" stroke="#8a8a8a" stroke-width="1.0" stroke-dasharray="6.9,6.82"/>
<polyline points="67.6,505.2 79.8,505.4 86.7,506.3 93.7,505.3 100.6,504.6 107.5,505.2 114.4,504.6 121.3,505.3 128.2,505.7 135.2,505.7 142.1,504.9 149.0,504.5 155.9,503.8 162.8,503.4 170.3,503.2 175.8,503.2 180.0,505.6 184.1,507.4 189.7,506.0 196.6,505.3 203.5,504.9 210.4,503.5 215.9,504.2 220.1,506.6 223.5,507.7 228.4,507.0 233.9,506.0 239.5,505.3 245.0,504.9 251.9,504.2 258.0,504.0 264.9,503.6 273.2,503.2 277.4,505.0 282.2,507.0 288.4,508.4 294.0,507.7 299.5,506.3 303.6,504.3 307.8,502.2 311.3,500.8 316.1,501.5 319.5,503.6 323.0,501.2 327.2,501.8 332.7,500.4 338.2,501.2 346.5,501.9 354.0,502.5 360.9,503.5 367.8,503.9 374.7,504.2 381.7,504.3 388.6,504.6 395.5,505.0 402.4,505.3 409.3,505.7 416.2,506.0 423.2,506.0 430.1,505.7 437.0,505.4 443.9,505.3 450.0,505.5 463.8,505.3 472.1,504.6 479.0,502.1 484.6,502.5 490.1,501.8 498.4,502.1 508.1,502.5 517.8,502.5 524.7,503.2 533.0,504.3 541.3,505.7 549.6,505.8 562.6,505.2 579.2,504.9 595.8,504.5 612.4,504.2 619.0,504.5 629.0,504.2 645.6,504.5 663.8,505.2" fill="none" stroke="#000000" stroke-width="1.7" stroke-linejoin="round" stroke-linecap="round"/>
<polyline points="67.6,505.2 77.1,505.2 78.4,504.6 80.5,507.0 83.3,509.0 86.1,514.6 88.8,518.0 91.6,519.4 93.7,522.6 97.8,522.2 102.0,520.8 106.1,519.4 108.2,518.7 110.3,520.1 112.3,516.0 115.1,511.1 118.6,511.1 122.0,513.2 124.8,515.3 127.5,517.6 131.0,517.1 134.5,517.1 137.2,520.1 140.7,516.0 144.1,512.5 147.6,509.0 151.1,507.7 154.5,507.0 158.0,505.6 161.4,503.2 166.1,502.5 170.3,500.7 173.1,499.4 175.8,501.4 177.9,506.3 180.0,516.0 182.1,525.6 184.1,530.9 186.2,527.0 189.0,521.5 192.4,516.0 195.9,512.5 199.3,509.7 202.1,507.0 204.9,506.3 208.3,504.2 211.8,502.4 214.6,503.5 216.6,507.7 218.0,514.6 219.4,521.5 221.5,527.0 223.5,527.7 225.6,522.9 228.4,518.7 231.2,514.6 233.9,510.4 237.4,505.6 240.8,500.7 245.0,498.0 249.1,496.6 253.3,496.3 257.4,495.9 262.1,497.3 266.3,497.8 271.8,498.0 274.6,501.5 276.7,509.8 278.7,522.2 280.8,533.3 282.9,536.8 285.7,539.5 289.1,543.7 291.9,538.8 295.3,531.9 298.8,525.0 300.9,518.1 302.3,508.4 303.6,496.0 305.7,486.3 308.5,481.4 311.3,479.4 313.3,487.7 316.1,489.7 318.9,494.6 320.9,496.7 323.0,487.7 325.1,480.7 327.8,481.4 329.9,475.2 332.7,469.0 335.5,472.4 338.9,479.4 343.1,484.9 347.2,490.4 352.1,496.7 354.0,497.7 356.8,499.7 359.5,502.5 363.7,502.9 365.8,506.7 367.8,510.8 370.6,509.4 373.4,507.3 376.8,506.7 380.3,506.2 383.0,503.5 385.1,504.6 386.9,508.0 390.0,507.1 394.1,506.2 398.3,503.9 401.7,502.1 405.2,501.5 408.6,501.1 412.1,503.9 415.5,505.3 420.4,506.0 425.9,506.4 431.5,507.1 437.0,506.2 442.5,505.7 448.1,507.3 455.5,508.0 460.4,508.5 463.8,506.2 470.7,504.6 472.8,500.4 475.6,493.5 478.4,488.0 481.8,489.4 485.3,491.4 488.0,494.9 490.8,497.7 494.3,499.7 498.4,501.5 503.2,504.3 508.1,504.9 512.2,507.1 516.4,507.6 520.5,507.3 524.7,506.7 530.2,506.2 535.8,505.7 541.3,506.0 549.6,505.6 554.3,505.4 560.9,504.9 567.6,503.5 572.6,505.2 579.2,507.4 585.8,506.2 592.5,505.7 595.8,506.2 602.4,504.9 609.1,504.0 614.0,500.2 619.0,500.2 622.3,501.2 625.7,502.9 632.3,505.2 638.1,506.5 642.3,504.9 645.6,503.5 652.2,504.5 658.9,505.2 663.8,505.4" fill="none" stroke="#0000e6" stroke-width="2.1" stroke-linejoin="round" stroke-linecap="round"/>
<text transform="translate(63.60,578.20) scale(1.4500,1)" text-anchor="end" font-size="16" font-weight="normal" fill="#000" font-family='"Liberation Sans", sans-serif' >-5</text>
<text transform="translate(63.60,511.00) scale(1.4500,1)" text-anchor="end" font-size="16" font-weight="normal" fill="#000" font-family='"Liberation Sans", sans-serif' >0</text>
<text transform="translate(63.60,443.80) scale(1.4500,1)" text-anchor="end" font-size="16" font-weight="normal" fill="#000" font-family='"Liberation Sans", sans-serif' >5</text>
<text transform="translate(68.10,590.40) scale(1.4500,1)" text-anchor="middle" font-size="16" font-weight="normal" fill="#000" font-family='"Liberation Sans", sans-serif' >0</text>
<text transform="translate(146.55,590.40) scale(1.4500,1)" text-anchor="middle" font-size="16" font-weight="normal" fill="#000" font-family='"Liberation Sans", sans-serif' >50</text>
<text transform="translate(225.50,590.40) scale(1.4500,1)" text-anchor="middle" font-size="16" font-weight="normal" fill="#000" font-family='"Liberation Sans", sans-serif' >100</text>
<text transform="translate(304.45,590.40) scale(1.4500,1)" text-anchor="middle" font-size="16" font-weight="normal" fill="#000" font-family='"Liberation Sans", sans-serif' >150</text>
<text transform="translate(383.40,590.40) scale(1.4500,1)" text-anchor="middle" font-size="16" font-weight="normal" fill="#000" font-family='"Liberation Sans", sans-serif' >200</text>
<text transform="translate(462.35,590.40) scale(1.4500,1)" text-anchor="middle" font-size="16" font-weight="normal" fill="#000" font-family='"Liberation Sans", sans-serif' >250</text>
<text transform="translate(541.30,590.40) scale(1.4500,1)" text-anchor="middle" font-size="16" font-weight="normal" fill="#000" font-family='"Liberation Sans", sans-serif' >300</text>
<text transform="translate(620.25,590.40) scale(1.4500,1)" text-anchor="middle" font-size="16" font-weight="normal" fill="#000" font-family='"Liberation Sans", sans-serif' >350</text>
<text transform="translate(699.20,590.40) scale(1.4500,1)" text-anchor="middle" font-size="16" font-weight="normal" fill="#000" font-family='"Liberation Sans", sans-serif' >400</text>
<line x1="68.40" y1="606.50" x2="68.40" y2="740.40" stroke="#808080" stroke-width="1.3"/>
<line x1="68.40" y1="740.40" x2="699.40" y2="740.40" stroke="#808080" stroke-width="1.3"/>
<line x1="699.40" y1="606.50" x2="699.40" y2="740.40" stroke="#a0a0a0" stroke-width="1.0"/>
<line x1="68.40" y1="606.50" x2="699.40" y2="606.50" stroke="#a0a0a0" stroke-width="1.0"/>
<line x1="68.40" y1="673.45" x2="699.40" y2="673.45" stroke="#7a7a7a" stroke-width="1.3" stroke-dasharray="6.9,6.82"/>
<line x1="146.48" y1="740.40" x2="146.48" y2="606.50" stroke="#8a8a8a" stroke-width="1.0" stroke-dasharray="6.9,6.82"/>
<line x1="225.46" y1="740.40" x2="225.46" y2="606.50" stroke="#8a8a8a" stroke-width="1.0" stroke-dasharray="6.9,6.82"/>
<line x1="304.44" y1="740.40" x2="304.44" y2="606.50" stroke="#8a8a8a" stroke-width="1.0" stroke-dasharray="6.9,6.82"/>
<line x1="383.42" y1="740.40" x2="383.42" y2="606.50" stroke="#8a8a8a" stroke-width="1.0" stroke-dasharray="6.9,6.82"/>
<line x1="462.40" y1="740.40" x2="462.40" y2="606.50" stroke="#8a8a8a" stroke-width="1.0" stroke-dasharray="6.9,6.82"/>
<line x1="541.38" y1="740.40" x2="541.38" y2="606.50" stroke="#8a8a8a" stroke-width="1.0" stroke-dasharray="6.9,6.82"/>
<line x1="620.36" y1="740.40" x2="620.36" y2="606.50" stroke="#8a8a8a" stroke-width="1.0" stroke-dasharray="6.9,6.82"/>
<polyline points="68.8,672.9 76.4,672.9 79.8,671.5 84.7,669.7 90.2,670.4 96.4,670.7 103.3,671.8 110.3,672.8 117.2,673.5 124.1,673.2 131.0,672.5 136.5,671.1 140.0,669.7 144.8,670.7 151.8,671.5 158.7,672.5 163.0,673.7 168.9,674.6 175.8,675.7 181.4,675.7 184.8,673.2 187.6,671.5 191.0,672.8 196.6,673.5 203.5,674.3 210.4,675.3 217.3,675.3 224.2,674.6 231.2,674.6 238.1,674.3 245.0,674.9 251.9,675.3 258.0,675.4 264.9,674.6 271.8,674.6 278.7,674.9 285.7,674.3 291.2,672.9 296.7,673.6 302.3,675.3 307.8,675.7 312.6,673.2 314.0,671.8 317.5,673.9 323.0,673.6 329.9,673.9 336.8,674.6 343.8,675.7 350.7,676.2 355.0,676.3 360.9,677.1 367.8,676.7 374.7,676.2 381.7,675.5 388.6,675.0 395.5,674.6 401.7,674.3 408.0,675.3 413.5,677.1 419.0,675.7 425.9,673.9 432.8,672.5 439.8,670.4 446.7,671.1 452.0,672.5 455.5,673.5 461.1,674.6 468.0,675.4 474.9,675.7 480.4,674.6 486.0,671.5 490.1,672.5 494.3,673.5 501.2,673.9 508.1,674.3 513.6,675.3 517.8,676.0 524.7,675.3 533.0,674.9 541.3,674.6 546.0,674.8 554.3,674.5 559.3,673.5 564.3,670.7 569.2,670.7 574.2,673.2 579.2,672.3 585.8,671.8 592.5,673.5 600.8,674.0 609.1,671.8 619.0,671.8 625.7,674.0 637.3,674.5 648.9,674.8 663.8,673.5" fill="none" stroke="#000000" stroke-width="1.7" stroke-linejoin="round" stroke-linecap="round"/>
<polyline points="68.8,672.9 76.4,672.9 78.4,669.0 80.5,660.7 82.6,655.2 85.4,650.4 87.4,652.4 88.8,657.3 91.6,658.0 94.4,655.9 97.1,658.0 99.9,660.7 102.7,662.1 105.4,664.2 108.2,667.7 111.0,671.1 113.7,675.3 116.5,681.5 119.3,685.6 122.0,687.7 124.8,685.6 127.5,682.9 130.3,681.5 133.1,678.7 135.2,674.6 137.2,667.7 139.3,659.4 141.4,654.5 143.5,656.6 145.5,660.1 149.0,661.4 152.4,663.5 155.9,667.7 158.7,671.1 161.4,676.0 162.0,677.3 164.1,681.5 166.1,684.3 170.3,685.0 173.8,685.6 176.5,688.4 178.9,691.9 181.4,687.0 183.4,677.3 185.5,663.5 187.6,655.2 189.7,658.0 191.7,663.5 194.5,668.4 198.0,669.0 201.4,668.8 204.2,671.1 207.0,675.3 209.7,681.5 212.5,686.3 215.3,688.4 218.0,686.3 220.8,682.9 223.5,676.0 225.6,673.9 227.7,677.3 229.8,680.4 232.5,680.1 235.3,676.0 238.1,670.4 240.1,665.6 242.2,664.2 244.3,670.4 246.4,675.3 248.4,676.7 250.5,671.8 252.6,673.9 254.0,678.7 256.0,676.2 258.0,674.6 260.1,681.5 262.1,687.0 264.9,681.5 267.4,673.2 269.8,680.1 271.8,682.9 274.6,680.1 278.1,687.0 280.8,680.1 283.6,680.1 285.7,676.0 287.7,667.7 289.5,662.1 291.2,666.3 293.3,669.7 296.0,671.8 298.8,677.3 301.6,685.6 304.3,689.5 307.1,684.3 309.9,674.6 311.9,664.9 314.0,659.4 316.8,662.1 319.5,664.9 322.3,668.4 325.8,669.0 328.5,670.4 330.6,674.6 332.7,676.7 334.8,674.6 337.5,673.9 340.3,678.7 343.1,682.2 346.5,682.9 349.3,685.6 352.1,691.2 354.8,692.6 356.1,691.9 358.1,694.6 360.9,698.1 363.7,693.9 366.4,688.4 369.2,686.3 372.0,689.1 374.7,691.2 377.5,687.0 380.3,683.6 383.0,682.2 385.8,684.3 388.6,687.0 390.7,689.1 392.7,685.6 395.5,680.8 398.3,680.1 401.7,676.0 404.5,678.7 406.6,684.3 409.3,689.1 412.1,696.7 413.8,702.2 416.2,698.1 420.4,691.2 424.5,685.6 428.7,681.5 432.8,677.3 434.9,671.8 437.0,663.5 439.1,656.6 441.1,653.1 443.9,653.1 446.7,653.8 449.4,655.9 452.2,658.0 455.5,662.1 458.3,669.0 461.1,676.0 463.8,679.4 468.0,682.9 471.4,685.6 474.2,687.3 477.0,682.9 479.7,676.0 483.2,671.8 486.0,666.3 488.0,661.4 490.1,662.1 492.2,659.4 495.0,661.4 497.7,665.6 499.8,671.8 502.6,676.0 506.0,678.0 508.8,681.5 511.5,687.0 514.3,695.3 516.4,702.2 518.0,707.8 520.5,703.6 524.7,698.1 528.8,693.3 533.0,689.1 538.5,684.3 544.1,680.8 548.0,679.2 551.0,677.8 556.0,676.1 559.3,674.8 561.8,663.2 564.3,651.6 566.7,645.8 569.2,644.9 571.7,651.6 574.2,664.9 576.7,670.7 579.2,666.5 581.7,661.5 585.0,659.5 588.3,663.2 590.8,674.8 593.3,684.8 595.8,690.6 599.1,688.1 603.3,683.9 605.8,673.2 608.2,662.4 611.6,658.2 615.7,654.6 619.0,654.9 621.5,663.2 624.0,674.0 627.3,679.0 630.6,682.3 634.0,687.3 638.9,687.3 643.9,685.6 648.9,683.9 652.2,681.5 657.2,677.3 663.8,673.5" fill="none" stroke="#0000e6" stroke-width="2.1" stroke-linejoin="round" stroke-linecap="round"/>
<text transform="translate(64.40,746.20) scale(1.4500,1)" text-anchor="end" font-size="16" font-weight="normal" fill="#000" font-family='"Liberation Sans", sans-serif' >-5</text>
<text transform="translate(64.40,679.25) scale(1.4500,1)" text-anchor="end" font-size="16" font-weight="normal" fill="#000" font-family='"Liberation Sans", sans-serif' >0</text>
<text transform="translate(64.40,612.30) scale(1.4500,1)" text-anchor="end" font-size="16" font-weight="normal" fill="#000" font-family='"Liberation Sans", sans-serif' >5</text>
<text transform="translate(68.90,758.40) scale(1.4500,1)" text-anchor="middle" font-size="16" font-weight="normal" fill="#000" font-family='"Liberation Sans", sans-serif' >0</text>
<text transform="translate(147.38,758.40) scale(1.4500,1)" text-anchor="middle" font-size="16" font-weight="normal" fill="#000" font-family='"Liberation Sans", sans-serif' >50</text>
<text transform="translate(226.36,758.40) scale(1.4500,1)" text-anchor="middle" font-size="16" font-weight="normal" fill="#000" font-family='"Liberation Sans", sans-serif' >100</text>
<text transform="translate(305.34,758.40) scale(1.4500,1)" text-anchor="middle" font-size="16" font-weight="normal" fill="#000" font-family='"Liberation Sans", sans-serif' >150</text>
<text transform="translate(384.32,758.40) scale(1.4500,1)" text-anchor="middle" font-size="16" font-weight="normal" fill="#000" font-family='"Liberation Sans", sans-serif' >200</text>
<text transform="translate(463.30,758.40) scale(1.4500,1)" text-anchor="middle" font-size="16" font-weight="normal" fill="#000" font-family='"Liberation Sans", sans-serif' >250</text>
<text transform="translate(542.28,758.40) scale(1.4500,1)" text-anchor="middle" font-size="16" font-weight="normal" fill="#000" font-family='"Liberation Sans", sans-serif' >300</text>
<text transform="translate(621.26,758.40) scale(1.4500,1)" text-anchor="middle" font-size="16" font-weight="normal" fill="#000" font-family='"Liberation Sans", sans-serif' >350</text>
<text transform="translate(700.24,758.40) scale(1.4500,1)" text-anchor="middle" font-size="16" font-weight="normal" fill="#000" font-family='"Liberation Sans", sans-serif' >400</text>
<rect x="322" y="42" width="368" height="24.400000000000006" fill="#fff"/>
<rect x="432" y="447.6" width="261" height="33.89999999999998" fill="#fff"/>
<text transform="translate(217.30,23.20) scale(1.4200,1)" text-anchor="start" font-size="20" font-weight="normal" fill="#000" font-family='"Liberation Sans", sans-serif' >Attitude Comparison&#160; (°)</text>
<text transform="translate(384.00,59.90) scale(1.4500,1)" text-anchor="start" font-size="16.2" font-weight="normal" fill="#000" font-family='"Liberation Sans", sans-serif' >Proposed</text>
<text transform="translate(540.90,59.90) scale(1.4100,1)" text-anchor="start" font-size="16.2" font-weight="normal" fill="#000" font-family='"Liberation Sans", sans-serif' >CF</text>
<text transform="translate(630.00,59.90) scale(1.4100,1)" text-anchor="start" font-size="16.2" font-weight="normal" fill="#000" font-family='"Liberation Sans", sans-serif' >SBG</text>
<text transform="translate(334.60,353.80) scale(1.4130,1)" text-anchor="start" font-size="20" font-weight="normal" fill="#000" font-family='"Liberation Sans", sans-serif' >Time (s)</text>
<text transform="translate(352.80,388.50) scale(0.9000,1)" text-anchor="start" font-size="23" font-weight="normal" fill="#000" font-family='"Liberation Serif", serif' >(<tspan font-weight='bold'>a</tspan>)</text>
<text transform="translate(165.20,429.90) scale(1.3740,1)" text-anchor="start" font-size="20" font-weight="bold" fill="#000" font-family='"Liberation Sans", sans-serif' >Attitude Error Comparison&#160; (°)</text>
<text transform="translate(493.20,468.30) scale(1.5080,1)" text-anchor="start" font-size="15.6" font-weight="normal" fill="#000" font-family='"Liberation Sans", sans-serif' >Proposed</text>
<text transform="translate(653.00,468.30) scale(1.4100,1)" text-anchor="start" font-size="15.6" font-weight="normal" fill="#000" font-family='"Liberation Sans", sans-serif' >CF</text>
<text transform="translate(330.00,784.20) scale(1.4450,1)" text-anchor="start" font-size="20" font-weight="normal" fill="#444" font-family='"Liberation Sans", sans-serif' >Time (s)</text>
<text transform="translate(351.30,814.50) scale(1.0000,1)" text-anchor="start" font-size="22" font-weight="normal" fill="#000" font-family='"Liberation Serif", serif' >(<tspan font-weight='bold'>b</tspan>)</text>
<text transform="translate(23.30,122.00) rotate(-90) scale(1.2000,1)" text-anchor="start" font-size="21" font-weight="normal" fill="#000" font-family='"Liberation Sans", sans-serif' letter-spacing="-1.8" stroke-width="0.4" stroke="#000">Roll</text>
<text transform="translate(23.80,280.80) rotate(-90) scale(1.2000,1)" text-anchor="start" font-size="21" font-weight="normal" fill="#000" font-family='"Liberation Sans", sans-serif' letter-spacing="-0.9" stroke-width="0.4" stroke="#000">Pitch</text>
<text transform="translate(20.80,523.60) rotate(-90) scale(1.2000,1)" text-anchor="start" font-size="21" font-weight="normal" fill="#444" font-family='"Liberation Sans", sans-serif' letter-spacing="-1.8" stroke-width="0.4" stroke="#444">Roll</text>
<text transform="translate(21.60,698.10) rotate(-90) scale(1.2000,1)" text-anchor="start" font-size="21" font-weight="normal" fill="#444" font-family='"Liberation Sans", sans-serif' letter-spacing="-0.9" stroke-width="0.4" stroke="#444">Pitch</text>
<line x1="335.5" y1="54" x2="377.6" y2="54" stroke="#000" stroke-width="1.8"/>
<line x1="491.6" y1="54.1" x2="535.8" y2="54.1" stroke="#1a1aa8" stroke-width="2.0"/>
<line x1="580.8" y1="54.4" x2="624" y2="54.4" stroke="#c86464" stroke-width="1.0"/>
<line x1="443.6" y1="462.2" x2="488.1" y2="462.2" stroke="#000" stroke-width="1.8"/>
<line x1="602" y1="462" x2="646.4" y2="462" stroke="#1a1aa8" stroke-width="2.0"/>
</svg></body></html>
